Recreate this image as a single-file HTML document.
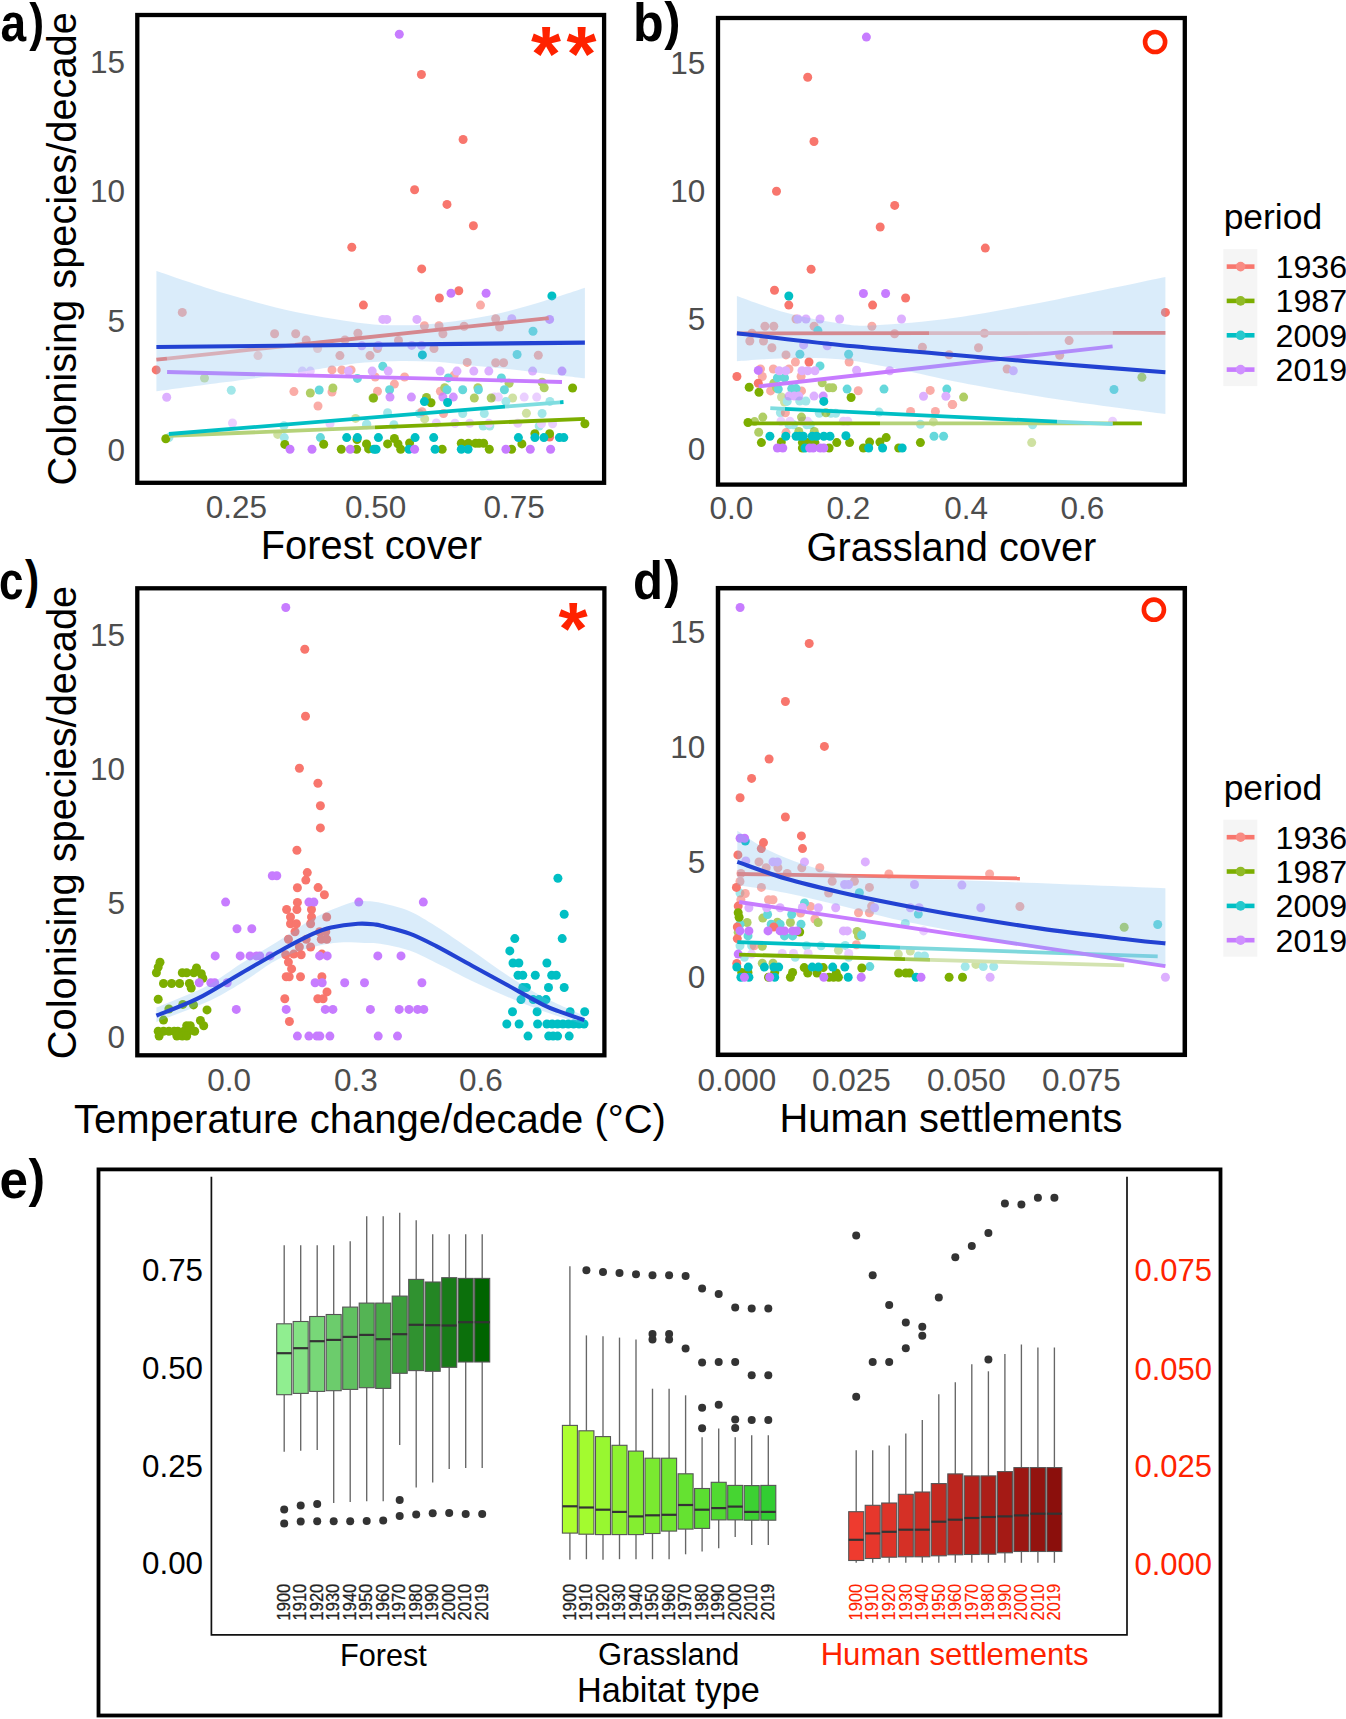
<!DOCTYPE html>
<html lang="en"><head><meta charset="utf-8"><title>Colonising species per decade</title>
<style>
html,body{margin:0;padding:0;background:#fff;}
body{width:1346px;height:1719px;overflow:hidden;}
svg{display:block;font-family:"Liberation Sans",Arial,Helvetica,sans-serif;}
</style></head><body>
<svg width="1346" height="1719" viewBox="0 0 1346 1719">
<rect width="1346" height="1719" fill="#fff"/>
<g id="panel-a">
<g opacity="0.36">
<g fill="#F8766D"><circle cx="258" cy="355.6" r="4.5"/><circle cx="317.6" cy="348.5" r="4.5"/></g>
<g fill="#7CAE00"><circle cx="204.5" cy="378.1" r="4.5"/><circle cx="355.6" cy="418.4" r="4.5"/><circle cx="277.7" cy="434.4" r="4.5"/><circle cx="512.6" cy="398" r="4.5"/><circle cx="526.4" cy="413.2" r="4.5"/><circle cx="424.7" cy="418.9" r="4.5"/></g>
<g fill="#00BFC4"><circle cx="231.3" cy="390.2" r="4.5"/><circle cx="283.9" cy="425.7" r="4.5"/><circle cx="366.5" cy="424.8" r="4.5"/><circle cx="168.9" cy="437.6" r="4.5"/><circle cx="284.3" cy="437.6" r="4.5"/><circle cx="505.9" cy="401.4" r="4.5"/><circle cx="549.9" cy="401.4" r="4.5"/><circle cx="387.6" cy="412.7" r="4.5"/><circle cx="419.4" cy="413.5" r="4.5"/><circle cx="462.7" cy="413.5" r="4.5"/><circle cx="484.3" cy="413.5" r="4.5"/><circle cx="542.1" cy="413.5" r="4.5"/><circle cx="366.8" cy="424.2" r="4.5"/><circle cx="393.9" cy="424.8" r="4.5"/><circle cx="483.2" cy="426" r="4.5"/><circle cx="489.8" cy="426" r="4.5"/><circle cx="539.2" cy="426" r="4.5"/></g>
<g fill="#C77CFF"><circle cx="302.3" cy="371.1" r="4.5"/><circle cx="310.3" cy="371.1" r="4.5"/><circle cx="232.5" cy="423" r="4.5"/><circle cx="330" cy="423.7" r="4.5"/><circle cx="494.4" cy="397.1" r="4.5"/><circle cx="498.4" cy="397.1" r="4.5"/><circle cx="524.2" cy="397.1" r="4.5"/><circle cx="536.7" cy="397.1" r="4.5"/><circle cx="436.3" cy="423" r="4.5"/><circle cx="455" cy="423.3" r="4.5"/><circle cx="469.7" cy="423.3" r="4.5"/><circle cx="488.9" cy="423.3" r="4.5"/><circle cx="517.8" cy="423.3" r="4.5"/><circle cx="541.5" cy="423.7" r="4.5"/><circle cx="552.6" cy="423.7" r="4.5"/></g>
</g>
<g opacity="0.6">
<g fill="#F8766D"><circle cx="182.3" cy="312.4" r="4.5"/><circle cx="274.6" cy="333.7" r="4.5"/><circle cx="295.7" cy="333.7" r="4.5"/><circle cx="306.2" cy="339.9" r="4.5"/><circle cx="357.9" cy="333.3" r="4.5"/><circle cx="345" cy="339.9" r="4.5"/><circle cx="339.9" cy="355.6" r="4.5"/><circle cx="370" cy="355.6" r="4.5"/><circle cx="332" cy="369.9" r="4.5"/><circle cx="341.8" cy="369.9" r="4.5"/><circle cx="351.1" cy="369.9" r="4.5"/><circle cx="293.9" cy="391.6" r="4.5"/><circle cx="332" cy="392" r="4.5"/><circle cx="318" cy="406" r="4.5"/><circle cx="480.5" cy="305.1" r="4.5"/><circle cx="424.4" cy="325.8" r="4.5"/><circle cx="439" cy="325.8" r="4.5"/><circle cx="442.9" cy="333.8" r="4.5"/><circle cx="464.1" cy="326.3" r="4.5"/><circle cx="495.7" cy="318.7" r="4.5"/><circle cx="499.6" cy="327" r="4.5"/><circle cx="398.5" cy="340.4" r="4.5"/><circle cx="377.5" cy="348.5" r="4.5"/><circle cx="434" cy="348.5" r="4.5"/><circle cx="538.3" cy="355.2" r="4.5"/><circle cx="467.2" cy="362.4" r="4.5"/><circle cx="495.7" cy="362.7" r="4.5"/><circle cx="503.6" cy="362.7" r="4.5"/><circle cx="375.2" cy="377" r="4.5"/><circle cx="404.6" cy="377" r="4.5"/><circle cx="454.2" cy="375.2" r="4.5"/><circle cx="394.4" cy="384.1" r="4.5"/><circle cx="377.5" cy="391.3" r="4.5"/><circle cx="440.4" cy="391.3" r="4.5"/><circle cx="422" cy="411.8" r="4.5"/><circle cx="443.5" cy="413.5" r="4.5"/></g>
<g fill="#7CAE00"><circle cx="310.3" cy="393" r="4.5"/><circle cx="332.9" cy="388" r="4.5"/><circle cx="373" cy="398" r="4.5"/><circle cx="509.1" cy="383.2" r="4.5"/><circle cx="542.1" cy="382.3" r="4.5"/><circle cx="544.2" cy="387.7" r="4.5"/><circle cx="444.7" cy="387.7" r="4.5"/><circle cx="477.9" cy="387.7" r="4.5"/><circle cx="474.3" cy="398" r="4.5"/><circle cx="491.2" cy="398" r="4.5"/></g>
<g fill="#00BFC4"><circle cx="357.4" cy="378.4" r="4.5"/><circle cx="319.2" cy="390" r="4.5"/><circle cx="320.4" cy="437.6" r="4.5"/><circle cx="533" cy="331.2" r="4.5"/><circle cx="517.1" cy="354.5" r="4.5"/><circle cx="382.8" cy="366.3" r="4.5"/><circle cx="448.3" cy="377.9" r="4.5"/><circle cx="501.4" cy="377.9" r="4.5"/><circle cx="389.6" cy="389.8" r="4.5"/><circle cx="447" cy="389.8" r="4.5"/><circle cx="462.7" cy="389.8" r="4.5"/><circle cx="478.4" cy="389.8" r="4.5"/><circle cx="504.4" cy="389.8" r="4.5"/></g>
<g fill="#C77CFF"><circle cx="361.8" cy="345.8" r="4.5"/><circle cx="348.4" cy="371.1" r="4.5"/><circle cx="372.2" cy="371.1" r="4.5"/><circle cx="166.7" cy="397.3" r="4.5"/><circle cx="382.8" cy="319.4" r="4.5"/><circle cx="386.8" cy="319.4" r="4.5"/><circle cx="416.9" cy="319.4" r="4.5"/><circle cx="511.8" cy="318.7" r="4.5"/><circle cx="378.4" cy="345.4" r="4.5"/><circle cx="411.7" cy="345.4" r="4.5"/><circle cx="421.5" cy="345.4" r="4.5"/><circle cx="388.2" cy="371.1" r="4.5"/><circle cx="440.1" cy="371.1" r="4.5"/><circle cx="457" cy="371.1" r="4.5"/><circle cx="473.8" cy="371.1" r="4.5"/><circle cx="488.8" cy="371.1" r="4.5"/><circle cx="532.6" cy="371.1" r="4.5"/></g>
</g>
<g opacity="0.8">
<g fill="#7CAE00"><circle cx="373.6" cy="398" r="4.5"/><circle cx="426.5" cy="397.5" r="4.5"/></g>
<g fill="#C77CFF"><circle cx="549.6" cy="319.4" r="4.5"/><circle cx="562" cy="371.1" r="4.5"/><circle cx="390" cy="397.1" r="4.5"/><circle cx="411.4" cy="397.1" r="4.5"/><circle cx="442.9" cy="397.1" r="4.5"/><circle cx="453.3" cy="397.1" r="4.5"/></g>
</g>
<g opacity="1.0">
<g fill="#F8766D"><circle cx="421.4" cy="74.5" r="4.5"/><circle cx="463.1" cy="139.5" r="4.5"/><circle cx="414.6" cy="189.7" r="4.5"/><circle cx="447" cy="204.4" r="4.5"/><circle cx="473.4" cy="225.8" r="4.5"/><circle cx="351.8" cy="247.2" r="4.5"/><circle cx="421.7" cy="268.9" r="4.5"/><circle cx="363.4" cy="305.1" r="4.5"/><circle cx="156.2" cy="369.9" r="4.5"/><circle cx="439.4" cy="298" r="4.5"/><circle cx="458.8" cy="290.7" r="4.5"/><circle cx="549.6" cy="437" r="4.5"/></g>
<g fill="#7CAE00"><circle cx="165.8" cy="438.7" r="4.5"/><circle cx="284.8" cy="444.4" r="4.5"/><circle cx="323.7" cy="444.2" r="4.5"/><circle cx="341.3" cy="449.2" r="4.5"/><circle cx="356.6" cy="449.2" r="4.5"/><circle cx="357" cy="439.5" r="4.5"/><circle cx="366.5" cy="443.9" r="4.5"/><circle cx="368.6" cy="448.9" r="4.5"/><circle cx="572.6" cy="388" r="4.5"/><circle cx="431" cy="402.8" r="4.5"/><circle cx="584.9" cy="423.7" r="4.5"/><circle cx="394.4" cy="438.5" r="4.5"/><circle cx="387.6" cy="443.9" r="4.5"/><circle cx="398" cy="443.9" r="4.5"/><circle cx="409.6" cy="443" r="4.5"/><circle cx="400.7" cy="449.2" r="4.5"/><circle cx="442.2" cy="449.2" r="4.5"/><circle cx="461.3" cy="443.3" r="4.5"/><circle cx="468.4" cy="443.3" r="4.5"/><circle cx="475.6" cy="443.3" r="4.5"/><circle cx="479.1" cy="443.3" r="4.5"/><circle cx="483.6" cy="443.3" r="4.5"/><circle cx="489.3" cy="449.2" r="4.5"/><circle cx="511.6" cy="449.2" r="4.5"/><circle cx="521.9" cy="443.9" r="4.5"/><circle cx="534.9" cy="433.7" r="4.5"/><circle cx="549.6" cy="433.7" r="4.5"/></g>
<g fill="#00BFC4"><circle cx="346.7" cy="437.6" r="4.5"/><circle cx="357.4" cy="437.6" r="4.5"/><circle cx="374" cy="449.2" r="4.5"/><circle cx="551.9" cy="295.9" r="4.5"/><circle cx="422.4" cy="354.9" r="4.5"/><circle cx="424.4" cy="401.6" r="4.5"/><circle cx="447.6" cy="402.5" r="4.5"/><circle cx="378.4" cy="437.6" r="4.5"/><circle cx="415.1" cy="437.6" r="4.5"/><circle cx="433.7" cy="437.6" r="4.5"/><circle cx="376.1" cy="449.2" r="4.5"/><circle cx="409" cy="449.2" r="4.5"/><circle cx="435.1" cy="449.2" r="4.5"/><circle cx="461.3" cy="449.2" r="4.5"/><circle cx="468.1" cy="449.2" r="4.5"/><circle cx="518.4" cy="437.6" r="4.5"/><circle cx="534.9" cy="437.6" r="4.5"/><circle cx="543.9" cy="437.6" r="4.5"/><circle cx="559.4" cy="437.6" r="4.5"/><circle cx="563.8" cy="437.6" r="4.5"/></g>
<g fill="#C77CFF"><circle cx="399.3" cy="34.3" r="4.5"/><circle cx="290" cy="449.2" r="4.5"/><circle cx="312" cy="449.2" r="4.5"/><circle cx="350.2" cy="449.2" r="4.5"/><circle cx="451" cy="293.2" r="4.5"/><circle cx="486.1" cy="293.2" r="4.5"/><circle cx="414.6" cy="449.2" r="4.5"/><circle cx="505.9" cy="449.2" r="4.5"/><circle cx="530.3" cy="449.2" r="4.5"/><circle cx="550.6" cy="449.2" r="4.5"/></g>
</g>
<line x1="168.9" y1="435.8" x2="375" y2="427.4" stroke="#B5D279" stroke-width="3.8" stroke-opacity="1" stroke-linecap="butt"/>
<line x1="375" y1="427.4" x2="584.9" y2="418.9" stroke="#7CAE00" stroke-width="3.8" stroke-opacity="1" stroke-linecap="butt"/>
<line x1="168.9" y1="434" x2="505" y2="406.7" stroke="#00BFC4" stroke-width="3.8" stroke-opacity="1" stroke-linecap="butt"/>
<line x1="505" y1="406.7" x2="560" y2="402.3" stroke="#7FDDE0" stroke-width="3.8" stroke-opacity="1" stroke-linecap="butt"/>
<line x1="560" y1="402.3" x2="563.5" y2="402" stroke="#00BFC4" stroke-width="3.8" stroke-opacity="1" stroke-linecap="butt"/>
<line x1="167.1" y1="372" x2="562" y2="382" stroke="#C77CFF" stroke-width="3.8" stroke-opacity="1" stroke-linecap="butt"/>
<line x1="156.4" y1="359.7" x2="167" y2="358.6" stroke="#F8766D" stroke-width="3.8" stroke-opacity="1" stroke-linecap="butt"/>
<line x1="167" y1="358.6" x2="295" y2="345" stroke="#F8766D" stroke-width="3.8" stroke-opacity="0.6" stroke-linecap="butt"/>
<line x1="295" y1="345" x2="548.7" y2="318.1" stroke="#F8766D" stroke-width="3.8" stroke-opacity="1" stroke-linecap="butt"/>
<path d="M156.4,270.9C167.7,274.6 201,286.4 224.2,293.2C247.4,300 272,306.8 295.5,311.9C319,316.9 347.5,321.3 365,323.5C382.5,325.7 388.8,325.3 400.7,325.3C412.6,325.3 421.4,325.1 436.3,323.5C451.2,321.9 472,319.2 489.8,315.5C507.6,311.8 527.4,305.8 543.3,301.2C559.1,296.6 578,290 584.9,287.8L584.9,378.2C578,377.4 556.2,374.9 543.3,373.4C530.4,371.9 519.6,370.3 507.7,369C495.8,367.7 483.9,366.6 472,365.4C460.1,364.2 448.2,362.6 436.3,361.8C424.4,361.1 412.6,360.8 400.7,360.9C388.8,361 376.6,361.6 365,362.6C353.4,363.6 342.6,365.3 331,367C319.4,368.7 313.3,370.2 295.5,372.8C277.7,375.4 247.4,379.2 224.2,382.3C201,385.4 167.7,389.8 156.4,391.3Z" fill="#76B9EC" fill-opacity="0.27"/>
<line x1="156.4" y1="347" x2="584.9" y2="342.6" stroke="#2242D2" stroke-width="4.1" stroke-opacity="1" stroke-linecap="butt"/>
<rect x="137.3" y="15" width="466.8" height="467.8" fill="none" stroke="#000" stroke-width="4.3"/>
<text x="125" y="72.8" font-size="31.5" fill="#4D4D4D" text-anchor="end" font-weight="normal">15</text>
<text x="125" y="202.3" font-size="31.5" fill="#4D4D4D" text-anchor="end" font-weight="normal">10</text>
<text x="125" y="331.8" font-size="31.5" fill="#4D4D4D" text-anchor="end" font-weight="normal">5</text>
<text x="125" y="461.3" font-size="31.5" fill="#4D4D4D" text-anchor="end" font-weight="normal">0</text>
<text x="236.4" y="517.5" font-size="31.5" fill="#4D4D4D" text-anchor="middle" font-weight="normal">0.25</text>
<text x="375.7" y="517.5" font-size="31.5" fill="#4D4D4D" text-anchor="middle" font-weight="normal">0.50</text>
<text x="514.1" y="517.5" font-size="31.5" fill="#4D4D4D" text-anchor="middle" font-weight="normal">0.75</text>
<text x="371.4" y="559.2" font-size="39.8" fill="#000" text-anchor="middle" font-weight="normal">Forest cover</text>
<text x="76.3" y="248.9" font-size="39.8" fill="#000" text-anchor="middle" font-weight="normal" transform="rotate(-90 76.3 248.9)">Colonising species/decade</text>
<text y="80.5" font-size="77" font-weight="bold" fill="#FF2200" text-anchor="middle"><tspan x="546.1">*</tspan><tspan x="581.6">*</tspan></text>
</g>
<g id="panel-b">
<g opacity="0.36">
<g fill="#7CAE00"><circle cx="781.5" cy="397" r="4.5"/><circle cx="784.5" cy="402" r="4.5"/><circle cx="933.4" cy="421.9" r="4.5"/><circle cx="1031.7" cy="442.6" r="4.5"/></g>
<g fill="#00BFC4"><circle cx="787.2" cy="401.4" r="4.5"/><circle cx="799.7" cy="401.1" r="4.5"/><circle cx="805.9" cy="401.1" r="4.5"/><circle cx="780.4" cy="412.7" r="4.5"/><circle cx="819.3" cy="413.2" r="4.5"/><circle cx="830.9" cy="413.2" r="4.5"/><circle cx="835.7" cy="413.2" r="4.5"/><circle cx="879.1" cy="412.1" r="4.5"/><circle cx="789" cy="424.8" r="4.5"/><circle cx="793.5" cy="424.8" r="4.5"/><circle cx="806.8" cy="424.8" r="4.5"/><circle cx="810.4" cy="424.8" r="4.5"/><circle cx="920.4" cy="424.2" r="4.5"/><circle cx="1032.6" cy="424.8" r="4.5"/></g>
<g fill="#C77CFF"><circle cx="781" cy="421.2" r="4.5"/><circle cx="789.9" cy="421.2" r="4.5"/><circle cx="802.4" cy="421.2" r="4.5"/><circle cx="807.4" cy="421.2" r="4.5"/><circle cx="843.4" cy="421.2" r="4.5"/><circle cx="847.8" cy="421.2" r="4.5"/><circle cx="1112.6" cy="421.2" r="4.5"/></g>
</g>
<g opacity="0.6">
<g fill="#F8766D"><circle cx="796" cy="319" r="4.5"/><circle cx="764.9" cy="326.2" r="4.5"/><circle cx="773.8" cy="326.2" r="4.5"/><circle cx="814.1" cy="326.2" r="4.5"/><circle cx="871.9" cy="326.2" r="4.5"/><circle cx="751.9" cy="333.3" r="4.5"/><circle cx="894.6" cy="333.7" r="4.5"/><circle cx="749.8" cy="341" r="4.5"/><circle cx="763.5" cy="341" r="4.5"/><circle cx="771.9" cy="347.7" r="4.5"/><circle cx="922.4" cy="347.2" r="4.5"/><circle cx="786" cy="354.9" r="4.5"/><circle cx="949.1" cy="354.7" r="4.5"/><circle cx="795.4" cy="362" r="4.5"/><circle cx="849.1" cy="362" r="4.5"/><circle cx="760.5" cy="369" r="4.5"/><circle cx="773.3" cy="369" r="4.5"/><circle cx="789" cy="369" r="4.5"/><circle cx="762.3" cy="376.5" r="4.5"/><circle cx="801.1" cy="376.5" r="4.5"/><circle cx="801.5" cy="390.9" r="4.5"/><circle cx="770.6" cy="390.9" r="4.5"/><circle cx="858.2" cy="390.7" r="4.5"/><circle cx="930.2" cy="390.4" r="4.5"/><circle cx="952.2" cy="404.6" r="4.5"/><circle cx="785.4" cy="412.7" r="4.5"/><circle cx="910.6" cy="411.4" r="4.5"/><circle cx="935.4" cy="411.4" r="4.5"/><circle cx="786" cy="432.6" r="4.5"/><circle cx="984.4" cy="333.3" r="4.5"/><circle cx="978.5" cy="347.7" r="4.5"/><circle cx="1069.1" cy="340.6" r="4.5"/><circle cx="1059.7" cy="355.2" r="4.5"/><circle cx="1007.1" cy="369" r="4.5"/><circle cx="952.7" cy="404.6" r="4.5"/></g>
<g fill="#7CAE00"><circle cx="773.8" cy="383.2" r="4.5"/><circle cx="822.2" cy="382.7" r="4.5"/><circle cx="776.5" cy="387.7" r="4.5"/><circle cx="829.1" cy="387.7" r="4.5"/><circle cx="832.7" cy="387.7" r="4.5"/><circle cx="825.9" cy="412.7" r="4.5"/><circle cx="762.8" cy="417.1" r="4.5"/><circle cx="801.5" cy="417.1" r="4.5"/><circle cx="754.6" cy="421.6" r="4.5"/><circle cx="758.7" cy="432.3" r="4.5"/><circle cx="798.8" cy="431.4" r="4.5"/><circle cx="814.3" cy="431.4" r="4.5"/><circle cx="1141.9" cy="377.3" r="4.5"/><circle cx="963.6" cy="397.1" r="4.5"/></g>
<g fill="#00BFC4"><circle cx="817.9" cy="330.6" r="4.5"/><circle cx="799.9" cy="354.3" r="4.5"/><circle cx="848.6" cy="354.2" r="4.5"/><circle cx="820" cy="365.9" r="4.5"/><circle cx="777.4" cy="377.9" r="4.5"/><circle cx="784.5" cy="377.9" r="4.5"/><circle cx="778.3" cy="389.1" r="4.5"/><circle cx="791.7" cy="388.6" r="4.5"/><circle cx="796.1" cy="388.6" r="4.5"/><circle cx="847.1" cy="389.1" r="4.5"/><circle cx="884" cy="389.1" r="4.5"/><circle cx="946.8" cy="389.1" r="4.5"/><circle cx="934" cy="436.2" r="4.5"/><circle cx="943.6" cy="436.2" r="4.5"/><circle cx="1114" cy="389.5" r="4.5"/></g>
<g fill="#C77CFF"><circle cx="797.9" cy="319" r="4.5"/><circle cx="806" cy="319" r="4.5"/><circle cx="820" cy="319" r="4.5"/><circle cx="839.6" cy="319" r="4.5"/><circle cx="901.5" cy="319" r="4.5"/><circle cx="803.6" cy="344.9" r="4.5"/><circle cx="827.2" cy="345.8" r="4.5"/><circle cx="779.2" cy="370.7" r="4.5"/><circle cx="785.8" cy="370.7" r="4.5"/><circle cx="802" cy="370.7" r="4.5"/><circle cx="807.7" cy="370.7" r="4.5"/><circle cx="814.9" cy="370.7" r="4.5"/><circle cx="856.6" cy="370.2" r="4.5"/><circle cx="889.7" cy="370.7" r="4.5"/><circle cx="789" cy="396.1" r="4.5"/><circle cx="794.3" cy="396.1" r="4.5"/><circle cx="798.8" cy="396.1" r="4.5"/><circle cx="814" cy="396.1" r="4.5"/><circle cx="923.5" cy="396.2" r="4.5"/><circle cx="945.9" cy="396.2" r="4.5"/><circle cx="1013.3" cy="370.7" r="4.5"/></g>
</g>
<g opacity="0.8">
<g fill="#C77CFF"><circle cx="823.2" cy="396.1" r="4.5"/></g>
</g>
<g opacity="1.0">
<g fill="#F8766D"><circle cx="807.7" cy="77.2" r="4.5"/><circle cx="814" cy="141.5" r="4.5"/><circle cx="776.5" cy="191.3" r="4.5"/><circle cx="894.7" cy="205.4" r="4.5"/><circle cx="880.2" cy="227" r="4.5"/><circle cx="985.3" cy="248.1" r="4.5"/><circle cx="811.1" cy="269.3" r="4.5"/><circle cx="774.5" cy="290.3" r="4.5"/><circle cx="788.8" cy="305.1" r="4.5"/><circle cx="872.6" cy="305.1" r="4.5"/><circle cx="905.6" cy="298" r="4.5"/><circle cx="809" cy="362" r="4.5"/><circle cx="736.9" cy="376.5" r="4.5"/><circle cx="758.3" cy="383.2" r="4.5"/><circle cx="1165.4" cy="312.4" r="4.5"/></g>
<g fill="#7CAE00"><circle cx="749.2" cy="387.2" r="4.5"/><circle cx="759" cy="392.3" r="4.5"/><circle cx="851.1" cy="397.5" r="4.5"/><circle cx="748" cy="422.5" r="4.5"/><circle cx="761.4" cy="442.6" r="4.5"/><circle cx="781.3" cy="442.1" r="4.5"/><circle cx="802.4" cy="442.6" r="4.5"/><circle cx="807.7" cy="442.6" r="4.5"/><circle cx="814.9" cy="442.6" r="4.5"/><circle cx="836.8" cy="442.6" r="4.5"/><circle cx="849.6" cy="442.6" r="4.5"/><circle cx="869.6" cy="442.1" r="4.5"/><circle cx="879.9" cy="442.1" r="4.5"/><circle cx="886.2" cy="437.6" r="4.5"/><circle cx="920.4" cy="442.6" r="4.5"/><circle cx="802.4" cy="448" r="4.5"/><circle cx="829.1" cy="448" r="4.5"/><circle cx="863.4" cy="448" r="4.5"/><circle cx="898.7" cy="448" r="4.5"/></g>
<g fill="#00BFC4"><circle cx="788.8" cy="296" r="4.5"/><circle cx="823.8" cy="401.4" r="4.5"/><circle cx="769.9" cy="436.2" r="4.5"/><circle cx="785.8" cy="436.2" r="4.5"/><circle cx="796.1" cy="436.2" r="4.5"/><circle cx="799.7" cy="436.2" r="4.5"/><circle cx="803.3" cy="436.2" r="4.5"/><circle cx="812.2" cy="436.2" r="4.5"/><circle cx="816.6" cy="436.2" r="4.5"/><circle cx="823.8" cy="436.2" r="4.5"/><circle cx="830" cy="436.2" r="4.5"/><circle cx="845.9" cy="435.8" r="4.5"/><circle cx="805" cy="448" r="4.5"/><circle cx="868.7" cy="448" r="4.5"/><circle cx="882.6" cy="448" r="4.5"/><circle cx="902.2" cy="448" r="4.5"/></g>
<g fill="#C77CFF"><circle cx="866.4" cy="37.1" r="4.5"/><circle cx="863.4" cy="293.5" r="4.5"/><circle cx="885.6" cy="293.5" r="4.5"/><circle cx="758.3" cy="370.4" r="4.5"/><circle cx="777.4" cy="448" r="4.5"/><circle cx="782.8" cy="448" r="4.5"/><circle cx="809.7" cy="448" r="4.5"/><circle cx="813.2" cy="448" r="4.5"/><circle cx="820.2" cy="448" r="4.5"/><circle cx="823.8" cy="448" r="4.5"/></g>
</g>
<line x1="748" y1="423.3" x2="880" y2="423.3" stroke="#7CAE00" stroke-width="3.8" stroke-opacity="1" stroke-linecap="butt"/>
<line x1="880" y1="423.3" x2="1112.6" y2="423.4" stroke="#B5D279" stroke-width="3.8" stroke-opacity="1" stroke-linecap="butt"/>
<line x1="1112.6" y1="423.4" x2="1141.9" y2="423.4" stroke="#7CAE00" stroke-width="3.8" stroke-opacity="1" stroke-linecap="butt"/>
<line x1="770.3" y1="408.2" x2="785" y2="408.9" stroke="#7FDDE0" stroke-width="3.8" stroke-opacity="1" stroke-linecap="butt"/>
<line x1="785" y1="408.9" x2="1057" y2="421.6" stroke="#00BFC4" stroke-width="3.8" stroke-opacity="1" stroke-linecap="butt"/>
<line x1="1057" y1="421.6" x2="1112.6" y2="424.2" stroke="#7FDDE0" stroke-width="3.8" stroke-opacity="1" stroke-linecap="butt"/>
<line x1="758.7" y1="386.4" x2="1112.6" y2="346.3" stroke="#C77CFF" stroke-width="3.8" stroke-opacity="1" stroke-linecap="butt"/>
<line x1="736.9" y1="333.5" x2="929" y2="333.2" stroke="#F8766D" stroke-width="3.8" stroke-opacity="1" stroke-linecap="butt"/>
<line x1="929" y1="333.2" x2="1112.6" y2="332.9" stroke="#FBBAB6" stroke-width="3.8" stroke-opacity="1" stroke-linecap="butt"/>
<line x1="1112.6" y1="332.9" x2="1165.4" y2="332.8" stroke="#F8766D" stroke-width="3.8" stroke-opacity="1" stroke-linecap="butt"/>
<path d="M736.9,295.9C745.1,298.7 769.1,308.2 786.3,312.8C803.4,317.4 824.9,321.4 839.8,323.5C854.7,325.6 856.3,326.2 875.5,325.3C894.7,324.4 924.8,322.1 955,317.8C985.2,313.5 1021.9,306.2 1057,299.4C1092.1,292.6 1147.3,280.8 1165.4,277.1L1165.4,414.1C1147.3,411.6 1092.1,404.8 1057,399.3C1021.9,393.9 982.3,386.6 955,381.4C927.7,376.2 912.5,371.8 893.3,368.1C874.1,364.4 857.6,360.8 839.8,359.2C822,357.6 803.4,357.9 786.3,358.3C769.1,358.7 745.1,360.8 736.9,361.3Z" fill="#76B9EC" fill-opacity="0.27"/>
<path d="M736.9,333.3C754.1,335.2 803.6,341.4 840,345C876.4,348.6 918.3,351.8 955,355C991.7,358.2 1024.9,361.1 1060,364C1095.1,366.9 1147.8,370.8 1165.4,372.2" fill="none" stroke="#2242D2" stroke-width="4.1"/>
<rect x="718" y="18" width="466.8" height="466.6" fill="none" stroke="#000" stroke-width="4.3"/>
<text x="705.2" y="73.9" font-size="31.5" fill="#4D4D4D" text-anchor="end" font-weight="normal">15</text>
<text x="705.2" y="202.2" font-size="31.5" fill="#4D4D4D" text-anchor="end" font-weight="normal">10</text>
<text x="705.2" y="330" font-size="31.5" fill="#4D4D4D" text-anchor="end" font-weight="normal">5</text>
<text x="705.2" y="459.5" font-size="31.5" fill="#4D4D4D" text-anchor="end" font-weight="normal">0</text>
<text x="731.4" y="519" font-size="31.5" fill="#4D4D4D" text-anchor="middle" font-weight="normal">0.0</text>
<text x="848.5" y="519" font-size="31.5" fill="#4D4D4D" text-anchor="middle" font-weight="normal">0.2</text>
<text x="966.1" y="519" font-size="31.5" fill="#4D4D4D" text-anchor="middle" font-weight="normal">0.4</text>
<text x="1082.5" y="519" font-size="31.5" fill="#4D4D4D" text-anchor="middle" font-weight="normal">0.6</text>
<text x="951.4" y="560.5" font-size="39.8" fill="#000" text-anchor="middle" font-weight="normal">Grassland cover</text>
<circle cx="1155.1" cy="42" r="10.05" fill="none" stroke="#FF2200" stroke-width="4.6"/>
</g>
<g id="panel-c">
<g fill="#F8766D">
<circle cx="296.9" cy="850.2" r="4.5"/>
<circle cx="307.3" cy="872.6" r="4.5"/>
<circle cx="305.8" cy="880.1" r="4.5"/>
<circle cx="297.4" cy="887.8" r="4.5"/>
<circle cx="318.1" cy="887.6" r="4.5"/>
<circle cx="324.4" cy="894.7" r="4.5"/>
<circle cx="297.4" cy="902.4" r="4.5"/>
<circle cx="311.5" cy="909.5" r="4.5"/>
<circle cx="286.6" cy="909.5" r="4.5"/>
<circle cx="296.9" cy="909.5" r="4.5"/>
<circle cx="290.5" cy="917" r="4.5"/>
<circle cx="311.5" cy="917" r="4.5"/>
<circle cx="326.7" cy="917" r="4.5"/>
<circle cx="290.5" cy="923.8" r="4.5"/>
<circle cx="296.4" cy="923.8" r="4.5"/>
<circle cx="310.6" cy="923.8" r="4.5"/>
<circle cx="295" cy="931.8" r="4.5"/>
<circle cx="319.6" cy="931.8" r="4.5"/>
<circle cx="325.8" cy="931.8" r="4.5"/>
<circle cx="288.4" cy="939.3" r="4.5"/>
<circle cx="306.2" cy="939.3" r="4.5"/>
<circle cx="321.3" cy="939.3" r="4.5"/>
<circle cx="326.7" cy="939.3" r="4.5"/>
<circle cx="299.4" cy="947" r="4.5"/>
<circle cx="310.6" cy="947" r="4.5"/>
<circle cx="285.7" cy="954.7" r="4.5"/>
<circle cx="293.7" cy="954.1" r="4.5"/>
<circle cx="301.2" cy="954.7" r="4.5"/>
<circle cx="321.9" cy="954.1" r="4.5"/>
<circle cx="288.4" cy="962.1" r="4.5"/>
<circle cx="291.6" cy="968.9" r="4.5"/>
<circle cx="286.2" cy="976.8" r="4.5"/>
<circle cx="289.2" cy="976.8" r="4.5"/>
<circle cx="300.5" cy="976.8" r="4.5"/>
<circle cx="321.9" cy="976.8" r="4.5"/>
<circle cx="327" cy="991.9" r="4.5"/>
<circle cx="284.8" cy="998.7" r="4.5"/>
<circle cx="317.8" cy="998.7" r="4.5"/>
<circle cx="323.1" cy="998.7" r="4.5"/>
<circle cx="289.4" cy="1021.5" r="4.5"/>
<circle cx="304.8" cy="649.2" r="4.5"/>
<circle cx="305.5" cy="716.2" r="4.5"/>
<circle cx="299.4" cy="768.3" r="4.5"/>
<circle cx="317.9" cy="783.3" r="4.5"/>
<circle cx="320.4" cy="805.7" r="4.5"/>
<circle cx="320.4" cy="827.9" r="4.5"/>
</g>
<g fill="#7CAE00">
<circle cx="160" cy="962.3" r="4.5"/>
<circle cx="158.2" cy="967.1" r="4.5"/>
<circle cx="156.4" cy="972.8" r="4.5"/>
<circle cx="196.5" cy="968" r="4.5"/>
<circle cx="182.3" cy="972.8" r="4.5"/>
<circle cx="186.7" cy="972.8" r="4.5"/>
<circle cx="193.8" cy="972.8" r="4.5"/>
<circle cx="201.3" cy="973.7" r="4.5"/>
<circle cx="202.8" cy="978.2" r="4.5"/>
<circle cx="163.5" cy="983.5" r="4.5"/>
<circle cx="171.6" cy="983.5" r="4.5"/>
<circle cx="179.6" cy="983.5" r="4.5"/>
<circle cx="189.4" cy="983.5" r="4.5"/>
<circle cx="191.2" cy="988" r="4.5"/>
<circle cx="158.2" cy="999.2" r="4.5"/>
<circle cx="168.9" cy="1009" r="4.5"/>
<circle cx="182.8" cy="1004.4" r="4.5"/>
<circle cx="193.5" cy="1004.9" r="4.5"/>
<circle cx="207" cy="1009.9" r="4.5"/>
<circle cx="163.5" cy="1020.1" r="4.5"/>
<circle cx="200.4" cy="1020.5" r="4.5"/>
<circle cx="203.7" cy="1025.8" r="4.5"/>
<circle cx="186.7" cy="1025.8" r="4.5"/>
<circle cx="190.3" cy="1025.8" r="4.5"/>
<circle cx="158.2" cy="1031.2" r="4.5"/>
<circle cx="163.5" cy="1031.2" r="4.5"/>
<circle cx="168.9" cy="1031.2" r="4.5"/>
<circle cx="174.2" cy="1031.2" r="4.5"/>
<circle cx="177.8" cy="1031.2" r="4.5"/>
<circle cx="184" cy="1031.2" r="4.5"/>
<circle cx="188.5" cy="1031.2" r="4.5"/>
<circle cx="194.7" cy="1031.2" r="4.5"/>
<circle cx="159.1" cy="1036.1" r="4.5"/>
<circle cx="176.9" cy="1036.1" r="4.5"/>
<circle cx="182.3" cy="1036.1" r="4.5"/>
<circle cx="186.7" cy="1036.1" r="4.5"/>
</g>
<g fill="#00BFC4">
<circle cx="557.9" cy="878.2" r="4.5"/>
<circle cx="564.2" cy="914.2" r="4.5"/>
<circle cx="562.2" cy="938.6" r="4.5"/>
<circle cx="514.8" cy="938.6" r="4.5"/>
<circle cx="509.8" cy="950.9" r="4.5"/>
<circle cx="513" cy="963" r="4.5"/>
<circle cx="518.9" cy="963" r="4.5"/>
<circle cx="546.9" cy="963" r="4.5"/>
<circle cx="518" cy="975.2" r="4.5"/>
<circle cx="522.8" cy="975.2" r="4.5"/>
<circle cx="535.3" cy="975.2" r="4.5"/>
<circle cx="551.7" cy="975.2" r="4.5"/>
<circle cx="556.3" cy="975.2" r="4.5"/>
<circle cx="522.8" cy="987.5" r="4.5"/>
<circle cx="526.4" cy="987.5" r="4.5"/>
<circle cx="548.5" cy="987.5" r="4.5"/>
<circle cx="564.2" cy="987.5" r="4.5"/>
<circle cx="521" cy="999.6" r="4.5"/>
<circle cx="533.2" cy="999.6" r="4.5"/>
<circle cx="538.9" cy="999.6" r="4.5"/>
<circle cx="546" cy="999.6" r="4.5"/>
<circle cx="512.5" cy="1011.7" r="4.5"/>
<circle cx="537.1" cy="1011.7" r="4.5"/>
<circle cx="570.1" cy="1011.7" r="4.5"/>
<circle cx="584.7" cy="1011.7" r="4.5"/>
<circle cx="506.8" cy="1024" r="4.5"/>
<circle cx="519.1" cy="1024" r="4.5"/>
<circle cx="537.6" cy="1024" r="4.5"/>
<circle cx="546.9" cy="1024" r="4.5"/>
<circle cx="552.2" cy="1024" r="4.5"/>
<circle cx="557.6" cy="1024" r="4.5"/>
<circle cx="562.9" cy="1024" r="4.5"/>
<circle cx="568.3" cy="1024" r="4.5"/>
<circle cx="573.6" cy="1024" r="4.5"/>
<circle cx="579" cy="1024" r="4.5"/>
<circle cx="584" cy="1024" r="4.5"/>
<circle cx="528" cy="1036.1" r="4.5"/>
<circle cx="548.7" cy="1036.1" r="4.5"/>
<circle cx="553.1" cy="1036.1" r="4.5"/>
<circle cx="557.6" cy="1036.1" r="4.5"/>
<circle cx="569.2" cy="1036.1" r="4.5"/>
</g>
<g fill="#C77CFF">
<circle cx="285.8" cy="607.5" r="4.5"/>
<circle cx="272.3" cy="875.7" r="4.5"/>
<circle cx="276.8" cy="875.7" r="4.5"/>
<circle cx="225.6" cy="902.1" r="4.5"/>
<circle cx="308.9" cy="902.1" r="4.5"/>
<circle cx="313.9" cy="902.1" r="4.5"/>
<circle cx="358.8" cy="902.1" r="4.5"/>
<circle cx="237" cy="928.8" r="4.5"/>
<circle cx="251.8" cy="928.8" r="4.5"/>
<circle cx="215.2" cy="955.9" r="4.5"/>
<circle cx="240.2" cy="955.9" r="4.5"/>
<circle cx="250" cy="955.9" r="4.5"/>
<circle cx="256.3" cy="955.9" r="4.5"/>
<circle cx="259.8" cy="955.9" r="4.5"/>
<circle cx="270" cy="955.9" r="4.5"/>
<circle cx="319.6" cy="955.9" r="4.5"/>
<circle cx="327.2" cy="955.9" r="4.5"/>
<circle cx="199.2" cy="982.7" r="4.5"/>
<circle cx="210.8" cy="982.7" r="4.5"/>
<circle cx="214.7" cy="982.7" r="4.5"/>
<circle cx="227.2" cy="982.7" r="4.5"/>
<circle cx="315.1" cy="982.7" r="4.5"/>
<circle cx="322.2" cy="982.7" r="4.5"/>
<circle cx="344.7" cy="982.7" r="4.5"/>
<circle cx="364.5" cy="982.7" r="4.5"/>
<circle cx="236.3" cy="1009.4" r="4.5"/>
<circle cx="286.2" cy="1009.4" r="4.5"/>
<circle cx="325.3" cy="1009.4" r="4.5"/>
<circle cx="332.9" cy="1009.4" r="4.5"/>
<circle cx="370.4" cy="1009.4" r="4.5"/>
<circle cx="297.4" cy="1036.1" r="4.5"/>
<circle cx="308.9" cy="1036.1" r="4.5"/>
<circle cx="316.9" cy="1036.1" r="4.5"/>
<circle cx="319.9" cy="1036.1" r="4.5"/>
<circle cx="329.9" cy="1036.1" r="4.5"/>
<circle cx="423.3" cy="902.1" r="4.5"/>
<circle cx="377.8" cy="955.9" r="4.5"/>
<circle cx="401" cy="955.9" r="4.5"/>
<circle cx="421.9" cy="982.7" r="4.5"/>
<circle cx="399.2" cy="1009.4" r="4.5"/>
<circle cx="409" cy="1009.4" r="4.5"/>
<circle cx="417.6" cy="1009.4" r="4.5"/>
<circle cx="423.8" cy="1009.4" r="4.5"/>
<circle cx="378.2" cy="1036.1" r="4.5"/>
<circle cx="397.5" cy="1036.1" r="4.5"/>
</g>
<path d="M156.4,1007.6C164.7,1004 192,993.6 206.3,986.2C220.6,978.8 230.1,970.4 242,963C253.9,955.6 265.8,949 277.7,941.6C289.6,934.2 301.4,924.9 313.3,918.5C325.2,912.1 340.1,906.2 349,903.3C357.9,900.4 361.2,901.2 366.8,901.2C372.4,901.2 375.7,901.6 382.8,903.3C389.9,905 400.7,907.4 409.6,911.3C418.5,915.2 425.9,920 436.3,926.5C446.7,933 460.1,942.4 472,950.6C483.9,958.8 495.8,967.8 507.7,975.5C519.6,983.2 530.5,990.2 543.3,996.9C556.1,1003.6 577.5,1012.5 584.3,1015.6L584.3,1024.6C577.5,1022.4 556.1,1015.8 543.3,1011.2C530.5,1006.6 519.6,1002 507.7,996.9C495.8,991.8 483.9,986.5 472,980.9C460.1,975.2 446.7,968 436.3,963C425.9,958 418.5,953.7 409.6,950.6C400.7,947.5 390.2,945.5 382.8,944.3C375.4,943 372.1,943.4 365,943.1C357.9,942.8 348.6,941.9 340,942.5C331.4,943.1 323.7,944.2 313.3,947C302.9,949.8 289.6,953.5 277.7,959.5C265.8,965.5 253.9,975.6 242,982.7C230.1,989.8 220.6,995.8 206.3,1002.3C192,1008.8 164.7,1018.6 156.4,1021.9Z" fill="#76B9EC" fill-opacity="0.27"/>
<path d="M156.4,1015.6C163.2,1012.8 183.1,1005.8 197.4,998.7C211.7,991.6 227.4,981.2 242,972.8C256.6,964.4 272.9,954.7 284.8,948.2C296.7,941.7 305.6,937.1 313.3,933.6C321,930.1 323.7,929 331.1,927.4C338.5,925.8 350.6,924.3 357.9,923.8C365.2,923.3 370.9,924.1 375,924.5C379.1,924.9 377,924.6 382.8,926.1C388.6,927.6 400.7,930.3 409.6,933.6C418.5,936.9 425.9,940.8 436.3,946.1C446.7,951.5 460.1,959.2 472,965.7C483.9,972.2 495.8,978.8 507.7,985.3C519.6,991.8 534.4,1000.4 543.3,1004.9C552.2,1009.4 554.3,1009.6 561.1,1012.1C567.9,1014.6 580.4,1018.8 584.3,1020.1" fill="none" stroke="#2242D2" stroke-width="4.1"/>
<rect x="137.3" y="588.3" width="467.1" height="467" fill="none" stroke="#000" stroke-width="4.3"/>
<text x="125" y="646.2" font-size="31.5" fill="#4D4D4D" text-anchor="end" font-weight="normal">15</text>
<text x="125" y="780.2" font-size="31.5" fill="#4D4D4D" text-anchor="end" font-weight="normal">10</text>
<text x="125" y="914.2" font-size="31.5" fill="#4D4D4D" text-anchor="end" font-weight="normal">5</text>
<text x="125" y="1048.2" font-size="31.5" fill="#4D4D4D" text-anchor="end" font-weight="normal">0</text>
<text x="229.2" y="1091" font-size="31.5" fill="#4D4D4D" text-anchor="middle" font-weight="normal">0.0</text>
<text x="355.8" y="1091" font-size="31.5" fill="#4D4D4D" text-anchor="middle" font-weight="normal">0.3</text>
<text x="480.8" y="1091" font-size="31.5" fill="#4D4D4D" text-anchor="middle" font-weight="normal">0.6</text>
<text x="370" y="1132.5" font-size="40" fill="#000" text-anchor="middle" font-weight="normal">Temperature change/decade (°C)</text>
<text x="76.3" y="822.5" font-size="39.8" fill="#000" text-anchor="middle" font-weight="normal" transform="rotate(-90 76.3 822.5)">Colonising species/decade</text>
<text x="573" y="653.8" font-size="75" fill="#FF2200" text-anchor="middle" font-weight="bold">*</text>
</g>
<g id="panel-d">
<g opacity="0.36">
<g fill="#7CAE00"><circle cx="838.4" cy="950.2" r="4.5"/><circle cx="910.3" cy="951.1" r="4.5"/><circle cx="898.3" cy="954.1" r="4.5"/><circle cx="975.9" cy="964.4" r="4.5"/></g>
<g fill="#00BFC4"><circle cx="740" cy="893.1" r="4.5"/><circle cx="905.3" cy="923.4" r="4.5"/><circle cx="740" cy="945.7" r="4.5"/><circle cx="751.6" cy="945.7" r="4.5"/><circle cx="806.5" cy="945.7" r="4.5"/><circle cx="821.1" cy="945.7" r="4.5"/><circle cx="845.2" cy="945.4" r="4.5"/><circle cx="918.3" cy="955.9" r="4.5"/><circle cx="924.5" cy="955.9" r="4.5"/><circle cx="744.4" cy="957.3" r="4.5"/><circle cx="795.2" cy="957.3" r="4.5"/><circle cx="848.7" cy="957.3" r="4.5"/><circle cx="965.2" cy="966.6" r="4.5"/><circle cx="983.3" cy="966.6" r="4.5"/><circle cx="993.7" cy="966.6" r="4.5"/></g>
<g fill="#C77CFF"><circle cx="923.6" cy="930.9" r="4.5"/><circle cx="751.6" cy="954.1" r="4.5"/><circle cx="782.2" cy="953.4" r="4.5"/><circle cx="793.5" cy="953.4" r="4.5"/><circle cx="808.1" cy="953.4" r="4.5"/><circle cx="848.7" cy="953.4" r="4.5"/></g>
</g>
<g opacity="0.6">
<g fill="#F8766D"><circle cx="759" cy="861.9" r="4.5"/><circle cx="766.2" cy="867.8" r="4.5"/><circle cx="777.9" cy="867.8" r="4.5"/><circle cx="801.8" cy="867.8" r="4.5"/><circle cx="819.8" cy="867.8" r="4.5"/><circle cx="740.9" cy="873.5" r="4.5"/><circle cx="787.2" cy="873.5" r="4.5"/><circle cx="888.9" cy="874" r="4.5"/><circle cx="740" cy="881.5" r="4.5"/><circle cx="832.2" cy="881.2" r="4.5"/><circle cx="854.4" cy="881.2" r="4.5"/><circle cx="761.4" cy="887.4" r="4.5"/><circle cx="869.4" cy="887.4" r="4.5"/><circle cx="745.3" cy="893.5" r="4.5"/><circle cx="828.6" cy="893.1" r="4.5"/><circle cx="768.5" cy="899.7" r="4.5"/><circle cx="773" cy="899.7" r="4.5"/><circle cx="740.9" cy="899.7" r="4.5"/><circle cx="810.4" cy="906.5" r="4.5"/><circle cx="871.6" cy="906.1" r="4.5"/><circle cx="800.6" cy="913.1" r="4.5"/><circle cx="858.5" cy="912.7" r="4.5"/><circle cx="869.4" cy="912.7" r="4.5"/><circle cx="814.9" cy="919" r="4.5"/><circle cx="856.4" cy="944.8" r="4.5"/><circle cx="754.2" cy="945.7" r="4.5"/><circle cx="989.6" cy="874" r="4.5"/><circle cx="1019.9" cy="906.5" r="4.5"/></g>
<g fill="#7CAE00"><circle cx="762.8" cy="918.1" r="4.5"/><circle cx="747.1" cy="922.5" r="4.5"/><circle cx="777.4" cy="922.2" r="4.5"/><circle cx="790.4" cy="922.5" r="4.5"/><circle cx="818.1" cy="922.5" r="4.5"/><circle cx="738.2" cy="932.3" r="4.5"/><circle cx="857.1" cy="931.4" r="4.5"/><circle cx="858.5" cy="935.9" r="4.5"/><circle cx="762.3" cy="946.2" r="4.5"/><circle cx="762.3" cy="963.2" r="4.5"/><circle cx="773" cy="963.2" r="4.5"/><circle cx="1124.2" cy="927.3" r="4.5"/></g>
<g fill="#00BFC4"><circle cx="859.4" cy="892.8" r="4.5"/><circle cx="804.5" cy="902.9" r="4.5"/><circle cx="767.6" cy="914.5" r="4.5"/><circle cx="791.7" cy="914.5" r="4.5"/><circle cx="918.3" cy="914.1" r="4.5"/><circle cx="740" cy="924.3" r="4.5"/><circle cx="771.2" cy="924.3" r="4.5"/><circle cx="780.1" cy="924.3" r="4.5"/><circle cx="801" cy="924.3" r="4.5"/><circle cx="861.6" cy="935" r="4.5"/><circle cx="748" cy="935.9" r="4.5"/><circle cx="784.5" cy="935.9" r="4.5"/><circle cx="792.6" cy="935.9" r="4.5"/><circle cx="869.8" cy="966.6" r="4.5"/><circle cx="1157.7" cy="924.5" r="4.5"/></g>
<g fill="#C77CFF"><circle cx="745.8" cy="861" r="4.5"/><circle cx="773" cy="861.9" r="4.5"/><circle cx="777.4" cy="861.9" r="4.5"/><circle cx="804.5" cy="861.9" r="4.5"/><circle cx="865.3" cy="861.9" r="4.5"/><circle cx="844.6" cy="884.5" r="4.5"/><circle cx="848.7" cy="884.5" r="4.5"/><circle cx="914.5" cy="884.5" r="4.5"/><circle cx="748.9" cy="907.7" r="4.5"/><circle cx="766.7" cy="907.7" r="4.5"/><circle cx="780.1" cy="907.7" r="4.5"/><circle cx="802.4" cy="907.4" r="4.5"/><circle cx="818.4" cy="907.7" r="4.5"/><circle cx="835.7" cy="907.7" r="4.5"/><circle cx="874.6" cy="907.7" r="4.5"/><circle cx="910.3" cy="907.7" r="4.5"/><circle cx="919.2" cy="907.7" r="4.5"/><circle cx="843.4" cy="930.9" r="4.5"/><circle cx="847.3" cy="930.9" r="4.5"/><circle cx="961.9" cy="885.1" r="4.5"/><circle cx="980.8" cy="907.7" r="4.5"/><circle cx="990.1" cy="977.3" r="4.5"/><circle cx="1165.4" cy="977.3" r="4.5"/></g>
</g>
<g opacity="1.0">
<g fill="#F8766D"><circle cx="809.2" cy="643.5" r="4.5"/><circle cx="785.4" cy="701.5" r="4.5"/><circle cx="824.4" cy="746.4" r="4.5"/><circle cx="769.1" cy="759" r="4.5"/><circle cx="751.6" cy="778.4" r="4.5"/><circle cx="740.1" cy="797.7" r="4.5"/><circle cx="785.4" cy="817" r="4.5"/><circle cx="801.4" cy="835.9" r="4.5"/><circle cx="763.5" cy="842.6" r="4.5"/><circle cx="802.5" cy="848.6" r="4.5"/><circle cx="761.3" cy="848.6" r="4.5"/><circle cx="737.9" cy="854.9" r="4.5"/><circle cx="736.4" cy="887.4" r="4.5"/><circle cx="738.2" cy="906.1" r="4.5"/><circle cx="737.3" cy="927" r="4.5"/><circle cx="773.8" cy="927" r="4.5"/><circle cx="737.3" cy="938.6" r="4.5"/><circle cx="736.8" cy="963.5" r="4.5"/></g>
<g fill="#7CAE00"><circle cx="738.2" cy="912.7" r="4.5"/><circle cx="739.1" cy="917.2" r="4.5"/><circle cx="799.7" cy="932" r="4.5"/><circle cx="804.2" cy="967.6" r="4.5"/><circle cx="823.2" cy="967.6" r="4.5"/><circle cx="861.8" cy="968" r="4.5"/><circle cx="741.7" cy="972.5" r="4.5"/><circle cx="748" cy="972.5" r="4.5"/><circle cx="774.7" cy="972.5" r="4.5"/><circle cx="792.6" cy="972.5" r="4.5"/><circle cx="807.7" cy="973" r="4.5"/><circle cx="817" cy="973" r="4.5"/><circle cx="836.3" cy="973" r="4.5"/><circle cx="898.7" cy="973" r="4.5"/><circle cx="905.8" cy="973" r="4.5"/><circle cx="909.4" cy="973" r="4.5"/><circle cx="768.5" cy="977.3" r="4.5"/><circle cx="790.4" cy="977.3" r="4.5"/><circle cx="829.1" cy="977.3" r="4.5"/><circle cx="833.6" cy="977.3" r="4.5"/><circle cx="838.4" cy="977.3" r="4.5"/><circle cx="949.1" cy="977.3" r="4.5"/><circle cx="962.5" cy="977.3" r="4.5"/></g>
<g fill="#00BFC4"><circle cx="745.3" cy="841.1" r="4.5"/><circle cx="736.8" cy="967.1" r="4.5"/><circle cx="748.3" cy="967.1" r="4.5"/><circle cx="764.4" cy="967.1" r="4.5"/><circle cx="773.8" cy="967.1" r="4.5"/><circle cx="778.7" cy="967.1" r="4.5"/><circle cx="812.2" cy="967.1" r="4.5"/><circle cx="818.4" cy="967.1" r="4.5"/><circle cx="832.7" cy="967.1" r="4.5"/><circle cx="844.8" cy="967.1" r="4.5"/><circle cx="740.9" cy="977.3" r="4.5"/><circle cx="748.9" cy="977.3" r="4.5"/><circle cx="774.7" cy="977.3" r="4.5"/><circle cx="848.2" cy="977.3" r="4.5"/><circle cx="916.1" cy="977.3" r="4.5"/></g>
<g fill="#C77CFF"><circle cx="740.1" cy="607.5" r="4.5"/><circle cx="740.1" cy="838.2" r="4.5"/><circle cx="744.6" cy="838.2" r="4.5"/><circle cx="740" cy="930.9" r="4.5"/><circle cx="748.9" cy="930.9" r="4.5"/><circle cx="768" cy="930.9" r="4.5"/><circle cx="780.1" cy="930.9" r="4.5"/><circle cx="784.5" cy="930.9" r="4.5"/><circle cx="792.6" cy="930.9" r="4.5"/><circle cx="797" cy="930.9" r="4.5"/><circle cx="738.2" cy="954.1" r="4.5"/><circle cx="744.4" cy="977.3" r="4.5"/><circle cx="769.7" cy="977.3" r="4.5"/><circle cx="823.8" cy="977.3" r="4.5"/><circle cx="861.2" cy="977.3" r="4.5"/><circle cx="921" cy="977.3" r="4.5"/></g>
</g>
<line x1="739.1" y1="954.6" x2="905" y2="959.2" stroke="#7CAE00" stroke-width="3.8" stroke-opacity="1" stroke-linecap="butt"/>
<line x1="905" y1="959.2" x2="930" y2="959.9" stroke="#A9CC60" stroke-width="3.8" stroke-opacity="1" stroke-linecap="butt"/>
<line x1="930" y1="959.9" x2="1124.2" y2="965.3" stroke="#D3E3B0" stroke-width="3.8" stroke-opacity="1" stroke-linecap="butt"/>
<line x1="737.3" y1="942.1" x2="880" y2="947" stroke="#00BFC4" stroke-width="3.8" stroke-opacity="1" stroke-linecap="butt"/>
<line x1="880" y1="947" x2="900" y2="947.6" stroke="#40CFD3" stroke-width="3.8" stroke-opacity="1" stroke-linecap="butt"/>
<line x1="900" y1="947.6" x2="1157.7" y2="956.4" stroke="#7FD8DC" stroke-width="3.8" stroke-opacity="1" stroke-linecap="butt"/>
<line x1="739.1" y1="902" x2="1165.4" y2="966.2" stroke="#C77CFF" stroke-width="3.8" stroke-opacity="1" stroke-linecap="butt"/>
<line x1="737.3" y1="874" x2="1019.9" y2="878.5" stroke="#F8766D" stroke-width="3.8" stroke-opacity="1" stroke-linecap="butt"/>
<path d="M737.3,830.7C742.5,834 757.4,844.6 768.5,850.3C779.6,855.9 792.3,860.7 804.2,864.6C816.1,868.5 824.9,871.3 839.8,873.5C854.6,875.7 874.1,876.9 893.3,878C912.5,879.1 909.6,878.3 955,880C1000.4,881.7 1130.3,886.9 1165.4,888.3L1165.4,966C1156.2,964.9 1128.1,961.8 1110,959.5C1091.9,957.2 1075.3,954.9 1057,952C1038.7,949.1 1017,945.4 1000,942C983,938.6 972.8,935.3 955,931.5C937.2,927.7 912.5,923.3 893.3,919C874.1,914.7 857.6,909.9 839.8,905.6C822,901.3 803.4,896.5 786.3,893.1C769.2,889.7 745.5,886.4 737.3,885.1Z" fill="#76B9EC" fill-opacity="0.27"/>
<path d="M737.3,861.9C745.5,864.7 769.2,873.8 786.3,878.8C803.4,883.8 822,888.1 839.8,892.2C857.6,896.3 874.1,899.7 893.3,903.5C912.5,907.3 930.7,910.9 955,915C979.3,919.1 1010.3,924.3 1039.2,928.4C1068.1,932.5 1107.3,937 1128.3,939.5C1149.3,942 1159.2,942.8 1165.4,943.4" fill="none" stroke="#2242D2" stroke-width="4.1"/>
<rect x="718" y="588.2" width="466.8" height="466.6" fill="none" stroke="#000" stroke-width="4.5"/>
<text x="705.2" y="642.6" font-size="31.5" fill="#4D4D4D" text-anchor="end" font-weight="normal">15</text>
<text x="705.2" y="757.6" font-size="31.5" fill="#4D4D4D" text-anchor="end" font-weight="normal">10</text>
<text x="705.2" y="872.6" font-size="31.5" fill="#4D4D4D" text-anchor="end" font-weight="normal">5</text>
<text x="705.2" y="987.6" font-size="31.5" fill="#4D4D4D" text-anchor="end" font-weight="normal">0</text>
<text x="736.8" y="1091" font-size="31.5" fill="#4D4D4D" text-anchor="middle" font-weight="normal">0.000</text>
<text x="851.3" y="1091" font-size="31.5" fill="#4D4D4D" text-anchor="middle" font-weight="normal">0.025</text>
<text x="966.3" y="1091" font-size="31.5" fill="#4D4D4D" text-anchor="middle" font-weight="normal">0.050</text>
<text x="1081.3" y="1091" font-size="31.5" fill="#4D4D4D" text-anchor="middle" font-weight="normal">0.075</text>
<text x="951" y="1131.9" font-size="39.8" fill="#000" text-anchor="middle" font-weight="normal">Human settlements</text>
<circle cx="1153.9" cy="609.7" r="10.05" fill="none" stroke="#FF2200" stroke-width="4.6"/>
</g>
<g id="legend">
<rect x="1223.3" y="249.1" width="34" height="137" fill="#F5F5F5"/>
<text x="1223.7" y="229.2" font-size="35.4" fill="#000" text-anchor="start" font-weight="normal">period</text>
<line x1="1226.7" y1="266.6" x2="1254.5" y2="266.6" stroke="#F8766D" stroke-width="4.6" stroke-opacity="1" stroke-linecap="butt"/>
<circle cx="1240.6" cy="266.6" r="4.8" fill="#F98B83"/>
<text x="1275.5" y="278" font-size="32.2" fill="#000" text-anchor="start" font-weight="normal">1936</text>
<line x1="1226.7" y1="300.9" x2="1254.5" y2="300.9" stroke="#7CAE00" stroke-width="4.6" stroke-opacity="1" stroke-linecap="butt"/>
<circle cx="1240.6" cy="300.9" r="4.8" fill="#90BA26"/>
<text x="1275.5" y="312.3" font-size="32.2" fill="#000" text-anchor="start" font-weight="normal">1987</text>
<line x1="1226.7" y1="335.3" x2="1254.5" y2="335.3" stroke="#00BFC4" stroke-width="4.6" stroke-opacity="1" stroke-linecap="butt"/>
<circle cx="1240.6" cy="335.3" r="4.8" fill="#26C9CD"/>
<text x="1275.5" y="346.7" font-size="32.2" fill="#000" text-anchor="start" font-weight="normal">2009</text>
<line x1="1226.7" y1="369.6" x2="1254.5" y2="369.6" stroke="#C77CFF" stroke-width="4.6" stroke-opacity="1" stroke-linecap="butt"/>
<circle cx="1240.6" cy="369.6" r="4.8" fill="#CF90FF"/>
<text x="1275.5" y="381" font-size="32.2" fill="#000" text-anchor="start" font-weight="normal">2019</text>
</g>
<g id="legend">
<rect x="1223.3" y="819.7" width="34" height="137" fill="#F5F5F5"/>
<text x="1223.7" y="799.8" font-size="35.4" fill="#000" text-anchor="start" font-weight="normal">period</text>
<line x1="1226.7" y1="837.2" x2="1254.5" y2="837.2" stroke="#F8766D" stroke-width="4.6" stroke-opacity="1" stroke-linecap="butt"/>
<circle cx="1240.6" cy="837.2" r="4.8" fill="#F98B83"/>
<text x="1275.5" y="848.6" font-size="32.2" fill="#000" text-anchor="start" font-weight="normal">1936</text>
<line x1="1226.7" y1="871.5" x2="1254.5" y2="871.5" stroke="#7CAE00" stroke-width="4.6" stroke-opacity="1" stroke-linecap="butt"/>
<circle cx="1240.6" cy="871.5" r="4.8" fill="#90BA26"/>
<text x="1275.5" y="882.9" font-size="32.2" fill="#000" text-anchor="start" font-weight="normal">1987</text>
<line x1="1226.7" y1="905.9" x2="1254.5" y2="905.9" stroke="#00BFC4" stroke-width="4.6" stroke-opacity="1" stroke-linecap="butt"/>
<circle cx="1240.6" cy="905.9" r="4.8" fill="#26C9CD"/>
<text x="1275.5" y="917.3" font-size="32.2" fill="#000" text-anchor="start" font-weight="normal">2009</text>
<line x1="1226.7" y1="940.2" x2="1254.5" y2="940.2" stroke="#C77CFF" stroke-width="4.6" stroke-opacity="1" stroke-linecap="butt"/>
<circle cx="1240.6" cy="940.2" r="4.8" fill="#CF90FF"/>
<text x="1275.5" y="951.6" font-size="32.2" fill="#000" text-anchor="start" font-weight="normal">2019</text>
</g>
<text transform="translate(0.5,41) scale(0.854,1)" font-size="54" font-weight="bold" fill="#000">a<tspan dx="3.5" dy="-1.3" font-size="52.4">)</tspan></text>
<text transform="translate(633,41) scale(0.93,1)" font-size="54" font-weight="bold" fill="#000">b<tspan dx="0.6" dy="-1.9" font-size="52.4">)</tspan></text>
<text transform="translate(-1,598.7) scale(0.815,1)" font-size="54" font-weight="bold" fill="#000">c<tspan dx="2" dy="-1.9" font-size="52.4">)</tspan></text>
<text transform="translate(633,599) scale(0.91,1)" font-size="54" font-weight="bold" fill="#000">d<tspan dx="1.5" dy="-1.9" font-size="52.4">)</tspan></text>
<text transform="translate(-0.5,1197.7) scale(0.95,1)" font-size="54" font-weight="bold" fill="#000">e<tspan dx="0.5" dy="-1.9" font-size="52.4">)</tspan></text>
<g id="panel-e">
<line x1="284.2" y1="1245.3" x2="284.2" y2="1323.8" stroke="#666" stroke-width="1.35" stroke-opacity="1" stroke-linecap="butt"/>
<line x1="284.2" y1="1394.7" x2="284.2" y2="1451.8" stroke="#666" stroke-width="1.35" stroke-opacity="1" stroke-linecap="butt"/>
<rect x="276.7" y="1323.8" width="15" height="70.9" fill="#90EE90" stroke="#555" stroke-width="1.1"/>
<line x1="276.7" y1="1353.2" x2="291.7" y2="1353.2" stroke="#333" stroke-width="2.2" stroke-opacity="1" stroke-linecap="butt"/>
<line x1="300.7" y1="1245.3" x2="300.7" y2="1321.5" stroke="#666" stroke-width="1.35" stroke-opacity="1" stroke-linecap="butt"/>
<line x1="300.7" y1="1393.4" x2="300.7" y2="1450.8" stroke="#666" stroke-width="1.35" stroke-opacity="1" stroke-linecap="butt"/>
<rect x="293.2" y="1321.5" width="15" height="71.9" fill="#84E284" stroke="#555" stroke-width="1.1"/>
<line x1="293.2" y1="1348.2" x2="308.2" y2="1348.2" stroke="#333" stroke-width="2.2" stroke-opacity="1" stroke-linecap="butt"/>
<line x1="317.2" y1="1245.3" x2="317.2" y2="1316.5" stroke="#666" stroke-width="1.35" stroke-opacity="1" stroke-linecap="butt"/>
<line x1="317.2" y1="1391.4" x2="317.2" y2="1450.1" stroke="#666" stroke-width="1.35" stroke-opacity="1" stroke-linecap="butt"/>
<rect x="309.7" y="1316.5" width="15" height="74.9" fill="#78D778" stroke="#555" stroke-width="1.1"/>
<line x1="309.7" y1="1341.2" x2="324.7" y2="1341.2" stroke="#333" stroke-width="2.2" stroke-opacity="1" stroke-linecap="butt"/>
<line x1="333.7" y1="1245.3" x2="333.7" y2="1314.5" stroke="#666" stroke-width="1.35" stroke-opacity="1" stroke-linecap="butt"/>
<line x1="333.7" y1="1390.7" x2="333.7" y2="1502.9" stroke="#666" stroke-width="1.35" stroke-opacity="1" stroke-linecap="butt"/>
<rect x="326.2" y="1314.5" width="15" height="76.2" fill="#6CCC6C" stroke="#555" stroke-width="1.1"/>
<line x1="326.2" y1="1339.9" x2="341.2" y2="1339.9" stroke="#333" stroke-width="2.2" stroke-opacity="1" stroke-linecap="butt"/>
<line x1="350.2" y1="1241.2" x2="350.2" y2="1307.1" stroke="#666" stroke-width="1.35" stroke-opacity="1" stroke-linecap="butt"/>
<line x1="350.2" y1="1389.4" x2="350.2" y2="1501.9" stroke="#666" stroke-width="1.35" stroke-opacity="1" stroke-linecap="butt"/>
<rect x="342.7" y="1307.1" width="15" height="82.3" fill="#60C060" stroke="#555" stroke-width="1.1"/>
<line x1="342.7" y1="1336.9" x2="357.7" y2="1336.9" stroke="#333" stroke-width="2.2" stroke-opacity="1" stroke-linecap="butt"/>
<line x1="366.7" y1="1216.2" x2="366.7" y2="1303.1" stroke="#666" stroke-width="1.35" stroke-opacity="1" stroke-linecap="butt"/>
<line x1="366.7" y1="1387.7" x2="366.7" y2="1501.2" stroke="#666" stroke-width="1.35" stroke-opacity="1" stroke-linecap="butt"/>
<rect x="359.2" y="1303.1" width="15" height="84.6" fill="#54B454" stroke="#555" stroke-width="1.1"/>
<line x1="359.2" y1="1334.9" x2="374.2" y2="1334.9" stroke="#333" stroke-width="2.2" stroke-opacity="1" stroke-linecap="butt"/>
<line x1="383.2" y1="1216.2" x2="383.2" y2="1303.1" stroke="#666" stroke-width="1.35" stroke-opacity="1" stroke-linecap="butt"/>
<line x1="383.2" y1="1388.4" x2="383.2" y2="1501.2" stroke="#666" stroke-width="1.35" stroke-opacity="1" stroke-linecap="butt"/>
<rect x="375.7" y="1303.1" width="15" height="85.3" fill="#48A948" stroke="#555" stroke-width="1.1"/>
<line x1="375.7" y1="1339.2" x2="390.7" y2="1339.2" stroke="#333" stroke-width="2.2" stroke-opacity="1" stroke-linecap="butt"/>
<line x1="399.7" y1="1212.8" x2="399.7" y2="1296.1" stroke="#666" stroke-width="1.35" stroke-opacity="1" stroke-linecap="butt"/>
<line x1="399.7" y1="1373.3" x2="399.7" y2="1445.1" stroke="#666" stroke-width="1.35" stroke-opacity="1" stroke-linecap="butt"/>
<rect x="392.2" y="1296.1" width="15" height="77.2" fill="#3C9E3C" stroke="#555" stroke-width="1.1"/>
<line x1="392.2" y1="1334.2" x2="407.2" y2="1334.2" stroke="#333" stroke-width="2.2" stroke-opacity="1" stroke-linecap="butt"/>
<line x1="416.2" y1="1220.2" x2="416.2" y2="1279.4" stroke="#666" stroke-width="1.35" stroke-opacity="1" stroke-linecap="butt"/>
<line x1="416.2" y1="1370.6" x2="416.2" y2="1487.5" stroke="#666" stroke-width="1.35" stroke-opacity="1" stroke-linecap="butt"/>
<rect x="408.7" y="1279.4" width="15" height="91.2" fill="#309230" stroke="#555" stroke-width="1.1"/>
<line x1="408.7" y1="1324.8" x2="423.7" y2="1324.8" stroke="#333" stroke-width="2.2" stroke-opacity="1" stroke-linecap="butt"/>
<line x1="432.7" y1="1234.2" x2="432.7" y2="1282" stroke="#666" stroke-width="1.35" stroke-opacity="1" stroke-linecap="butt"/>
<line x1="432.7" y1="1371.3" x2="432.7" y2="1482.5" stroke="#666" stroke-width="1.35" stroke-opacity="1" stroke-linecap="butt"/>
<rect x="425.2" y="1282" width="15" height="89.3" fill="#248624" stroke="#555" stroke-width="1.1"/>
<line x1="425.2" y1="1325.2" x2="440.2" y2="1325.2" stroke="#333" stroke-width="2.2" stroke-opacity="1" stroke-linecap="butt"/>
<line x1="449.2" y1="1234.2" x2="449.2" y2="1277.7" stroke="#666" stroke-width="1.35" stroke-opacity="1" stroke-linecap="butt"/>
<line x1="449.2" y1="1367.3" x2="449.2" y2="1469.1" stroke="#666" stroke-width="1.35" stroke-opacity="1" stroke-linecap="butt"/>
<rect x="441.7" y="1277.7" width="15" height="89.6" fill="#187B18" stroke="#555" stroke-width="1.1"/>
<line x1="441.7" y1="1325.5" x2="456.7" y2="1325.5" stroke="#333" stroke-width="2.2" stroke-opacity="1" stroke-linecap="butt"/>
<line x1="465.7" y1="1234.2" x2="465.7" y2="1278.4" stroke="#666" stroke-width="1.35" stroke-opacity="1" stroke-linecap="butt"/>
<line x1="465.7" y1="1362" x2="465.7" y2="1468.1" stroke="#666" stroke-width="1.35" stroke-opacity="1" stroke-linecap="butt"/>
<rect x="458.2" y="1278.4" width="15" height="83.6" fill="#0C700C" stroke="#555" stroke-width="1.1"/>
<line x1="458.2" y1="1322.2" x2="473.2" y2="1322.2" stroke="#333" stroke-width="2.2" stroke-opacity="1" stroke-linecap="butt"/>
<line x1="482.2" y1="1234.2" x2="482.2" y2="1278.4" stroke="#666" stroke-width="1.35" stroke-opacity="1" stroke-linecap="butt"/>
<line x1="482.2" y1="1362" x2="482.2" y2="1468.1" stroke="#666" stroke-width="1.35" stroke-opacity="1" stroke-linecap="butt"/>
<rect x="474.7" y="1278.4" width="15" height="83.6" fill="#006400" stroke="#555" stroke-width="1.1"/>
<line x1="474.7" y1="1322.2" x2="489.7" y2="1322.2" stroke="#333" stroke-width="2.2" stroke-opacity="1" stroke-linecap="butt"/>
<g fill="#333">
<circle cx="284.2" cy="1509.6" r="4"/>
<circle cx="284.2" cy="1523.6" r="4"/>
<circle cx="300.7" cy="1505.6" r="4"/>
<circle cx="300.7" cy="1521.6" r="4"/>
<circle cx="317.2" cy="1503.9" r="4"/>
<circle cx="317.2" cy="1521.3" r="4"/>
<circle cx="333.7" cy="1521.3" r="4"/>
<circle cx="350.2" cy="1521.3" r="4"/>
<circle cx="366.7" cy="1521" r="4"/>
<circle cx="383.2" cy="1520.6" r="4"/>
<circle cx="399.7" cy="1499.9" r="4"/>
<circle cx="399.7" cy="1516" r="4"/>
<circle cx="416.2" cy="1514.6" r="4"/>
<circle cx="432.7" cy="1513.3" r="4"/>
<circle cx="449.2" cy="1512.9" r="4"/>
<circle cx="465.7" cy="1513.9" r="4"/>
<circle cx="482.2" cy="1513.9" r="4"/>
</g>
<text x="290" y="1620.4" font-size="18" fill="#222" text-anchor="start" font-weight="normal" transform="rotate(-90 290 1620.4)" textLength="36.7" lengthAdjust="spacingAndGlyphs" stroke="#222" stroke-width="0.3">1900</text>
<text x="306.5" y="1620.4" font-size="18" fill="#222" text-anchor="start" font-weight="normal" transform="rotate(-90 306.5 1620.4)" textLength="36.7" lengthAdjust="spacingAndGlyphs" stroke="#222" stroke-width="0.3">1910</text>
<text x="323" y="1620.4" font-size="18" fill="#222" text-anchor="start" font-weight="normal" transform="rotate(-90 323 1620.4)" textLength="36.7" lengthAdjust="spacingAndGlyphs" stroke="#222" stroke-width="0.3">1920</text>
<text x="339.5" y="1620.4" font-size="18" fill="#222" text-anchor="start" font-weight="normal" transform="rotate(-90 339.5 1620.4)" textLength="36.7" lengthAdjust="spacingAndGlyphs" stroke="#222" stroke-width="0.3">1930</text>
<text x="356" y="1620.4" font-size="18" fill="#222" text-anchor="start" font-weight="normal" transform="rotate(-90 356 1620.4)" textLength="36.7" lengthAdjust="spacingAndGlyphs" stroke="#222" stroke-width="0.3">1940</text>
<text x="372.5" y="1620.4" font-size="18" fill="#222" text-anchor="start" font-weight="normal" transform="rotate(-90 372.5 1620.4)" textLength="36.7" lengthAdjust="spacingAndGlyphs" stroke="#222" stroke-width="0.3">1950</text>
<text x="389" y="1620.4" font-size="18" fill="#222" text-anchor="start" font-weight="normal" transform="rotate(-90 389 1620.4)" textLength="36.7" lengthAdjust="spacingAndGlyphs" stroke="#222" stroke-width="0.3">1960</text>
<text x="405.5" y="1620.4" font-size="18" fill="#222" text-anchor="start" font-weight="normal" transform="rotate(-90 405.5 1620.4)" textLength="36.7" lengthAdjust="spacingAndGlyphs" stroke="#222" stroke-width="0.3">1970</text>
<text x="422" y="1620.4" font-size="18" fill="#222" text-anchor="start" font-weight="normal" transform="rotate(-90 422 1620.4)" textLength="36.7" lengthAdjust="spacingAndGlyphs" stroke="#222" stroke-width="0.3">1980</text>
<text x="438.5" y="1620.4" font-size="18" fill="#222" text-anchor="start" font-weight="normal" transform="rotate(-90 438.5 1620.4)" textLength="36.7" lengthAdjust="spacingAndGlyphs" stroke="#222" stroke-width="0.3">1990</text>
<text x="455" y="1620.4" font-size="18" fill="#222" text-anchor="start" font-weight="normal" transform="rotate(-90 455 1620.4)" textLength="36.7" lengthAdjust="spacingAndGlyphs" stroke="#222" stroke-width="0.3">2000</text>
<text x="471.5" y="1620.4" font-size="18" fill="#222" text-anchor="start" font-weight="normal" transform="rotate(-90 471.5 1620.4)" textLength="36.7" lengthAdjust="spacingAndGlyphs" stroke="#222" stroke-width="0.3">2010</text>
<text x="488" y="1620.4" font-size="18" fill="#222" text-anchor="start" font-weight="normal" transform="rotate(-90 488 1620.4)" textLength="36.7" lengthAdjust="spacingAndGlyphs" stroke="#222" stroke-width="0.3">2019</text>
<line x1="569.9" y1="1266.3" x2="569.9" y2="1425.4" stroke="#666" stroke-width="1.35" stroke-opacity="1" stroke-linecap="butt"/>
<line x1="569.9" y1="1533.1" x2="569.9" y2="1559.8" stroke="#666" stroke-width="1.35" stroke-opacity="1" stroke-linecap="butt"/>
<rect x="562.4" y="1425.4" width="15" height="107.7" fill="#ADFF2F" stroke="#555" stroke-width="1.1"/>
<line x1="562.4" y1="1506.3" x2="577.4" y2="1506.3" stroke="#333" stroke-width="2.2" stroke-opacity="1" stroke-linecap="butt"/>
<line x1="586.4" y1="1335.4" x2="586.4" y2="1430.8" stroke="#666" stroke-width="1.35" stroke-opacity="1" stroke-linecap="butt"/>
<line x1="586.4" y1="1534.2" x2="586.4" y2="1559.2" stroke="#666" stroke-width="1.35" stroke-opacity="1" stroke-linecap="butt"/>
<rect x="578.9" y="1430.8" width="15" height="103.4" fill="#A3FB2F" stroke="#555" stroke-width="1.1"/>
<line x1="578.9" y1="1507.5" x2="593.9" y2="1507.5" stroke="#333" stroke-width="2.2" stroke-opacity="1" stroke-linecap="butt"/>
<line x1="603" y1="1336.3" x2="603" y2="1436.6" stroke="#666" stroke-width="1.35" stroke-opacity="1" stroke-linecap="butt"/>
<line x1="603" y1="1534.6" x2="603" y2="1559.8" stroke="#666" stroke-width="1.35" stroke-opacity="1" stroke-linecap="butt"/>
<rect x="595.5" y="1436.6" width="15" height="98" fill="#98F730" stroke="#555" stroke-width="1.1"/>
<line x1="595.5" y1="1509.7" x2="610.5" y2="1509.7" stroke="#333" stroke-width="2.2" stroke-opacity="1" stroke-linecap="butt"/>
<line x1="619.5" y1="1337.6" x2="619.5" y2="1445.3" stroke="#666" stroke-width="1.35" stroke-opacity="1" stroke-linecap="butt"/>
<line x1="619.5" y1="1534.6" x2="619.5" y2="1559.2" stroke="#666" stroke-width="1.35" stroke-opacity="1" stroke-linecap="butt"/>
<rect x="612" y="1445.3" width="15" height="89.3" fill="#8EF230" stroke="#555" stroke-width="1.1"/>
<line x1="612" y1="1511.9" x2="627" y2="1511.9" stroke="#333" stroke-width="2.2" stroke-opacity="1" stroke-linecap="butt"/>
<line x1="636" y1="1339.4" x2="636" y2="1451.1" stroke="#666" stroke-width="1.35" stroke-opacity="1" stroke-linecap="butt"/>
<line x1="636" y1="1534.6" x2="636" y2="1559.2" stroke="#666" stroke-width="1.35" stroke-opacity="1" stroke-linecap="butt"/>
<rect x="628.5" y="1451.1" width="15" height="83.5" fill="#84EE30" stroke="#555" stroke-width="1.1"/>
<line x1="628.5" y1="1516.4" x2="643.5" y2="1516.4" stroke="#333" stroke-width="2.2" stroke-opacity="1" stroke-linecap="butt"/>
<line x1="652.5" y1="1388.7" x2="652.5" y2="1458.2" stroke="#666" stroke-width="1.35" stroke-opacity="1" stroke-linecap="butt"/>
<line x1="652.5" y1="1533.5" x2="652.5" y2="1559.2" stroke="#666" stroke-width="1.35" stroke-opacity="1" stroke-linecap="butt"/>
<rect x="645" y="1458.2" width="15" height="75.3" fill="#7AEA30" stroke="#555" stroke-width="1.1"/>
<line x1="645" y1="1515.3" x2="660" y2="1515.3" stroke="#333" stroke-width="2.2" stroke-opacity="1" stroke-linecap="butt"/>
<line x1="669.1" y1="1388.7" x2="669.1" y2="1458.2" stroke="#666" stroke-width="1.35" stroke-opacity="1" stroke-linecap="butt"/>
<line x1="669.1" y1="1531.1" x2="669.1" y2="1559.2" stroke="#666" stroke-width="1.35" stroke-opacity="1" stroke-linecap="butt"/>
<rect x="661.6" y="1458.2" width="15" height="72.9" fill="#70E630" stroke="#555" stroke-width="1.1"/>
<line x1="661.6" y1="1514.8" x2="676.6" y2="1514.8" stroke="#333" stroke-width="2.2" stroke-opacity="1" stroke-linecap="butt"/>
<line x1="685.6" y1="1395.3" x2="685.6" y2="1473.8" stroke="#666" stroke-width="1.35" stroke-opacity="1" stroke-linecap="butt"/>
<line x1="685.6" y1="1529.1" x2="685.6" y2="1554.3" stroke="#666" stroke-width="1.35" stroke-opacity="1" stroke-linecap="butt"/>
<rect x="678.1" y="1473.8" width="15" height="55.3" fill="#65E231" stroke="#555" stroke-width="1.1"/>
<line x1="678.1" y1="1505" x2="693.1" y2="1505" stroke="#333" stroke-width="2.2" stroke-opacity="1" stroke-linecap="butt"/>
<line x1="702.1" y1="1437.2" x2="702.1" y2="1488.5" stroke="#666" stroke-width="1.35" stroke-opacity="1" stroke-linecap="butt"/>
<line x1="702.1" y1="1528.4" x2="702.1" y2="1551.6" stroke="#666" stroke-width="1.35" stroke-opacity="1" stroke-linecap="butt"/>
<rect x="694.6" y="1488.5" width="15" height="39.9" fill="#5BDE31" stroke="#555" stroke-width="1.1"/>
<line x1="694.6" y1="1509.7" x2="709.6" y2="1509.7" stroke="#333" stroke-width="2.2" stroke-opacity="1" stroke-linecap="butt"/>
<line x1="718.7" y1="1428.6" x2="718.7" y2="1482.3" stroke="#666" stroke-width="1.35" stroke-opacity="1" stroke-linecap="butt"/>
<line x1="718.7" y1="1519.9" x2="718.7" y2="1548.2" stroke="#666" stroke-width="1.35" stroke-opacity="1" stroke-linecap="butt"/>
<rect x="711.2" y="1482.3" width="15" height="37.6" fill="#51DA31" stroke="#555" stroke-width="1.1"/>
<line x1="711.2" y1="1508.1" x2="726.2" y2="1508.1" stroke="#333" stroke-width="2.2" stroke-opacity="1" stroke-linecap="butt"/>
<line x1="735.2" y1="1437.2" x2="735.2" y2="1485.4" stroke="#666" stroke-width="1.35" stroke-opacity="1" stroke-linecap="butt"/>
<line x1="735.2" y1="1519.9" x2="735.2" y2="1537.1" stroke="#666" stroke-width="1.35" stroke-opacity="1" stroke-linecap="butt"/>
<rect x="727.7" y="1485.4" width="15" height="34.5" fill="#46D532" stroke="#555" stroke-width="1.1"/>
<line x1="727.7" y1="1506.6" x2="742.7" y2="1506.6" stroke="#333" stroke-width="2.2" stroke-opacity="1" stroke-linecap="butt"/>
<line x1="751.7" y1="1435.2" x2="751.7" y2="1485.6" stroke="#666" stroke-width="1.35" stroke-opacity="1" stroke-linecap="butt"/>
<line x1="751.7" y1="1520.2" x2="751.7" y2="1544.9" stroke="#666" stroke-width="1.35" stroke-opacity="1" stroke-linecap="butt"/>
<rect x="744.2" y="1485.6" width="15" height="34.6" fill="#3CD132" stroke="#555" stroke-width="1.1"/>
<line x1="744.2" y1="1511.9" x2="759.2" y2="1511.9" stroke="#333" stroke-width="2.2" stroke-opacity="1" stroke-linecap="butt"/>
<line x1="768.3" y1="1435.2" x2="768.3" y2="1485.4" stroke="#666" stroke-width="1.35" stroke-opacity="1" stroke-linecap="butt"/>
<line x1="768.3" y1="1520.2" x2="768.3" y2="1544.9" stroke="#666" stroke-width="1.35" stroke-opacity="1" stroke-linecap="butt"/>
<rect x="760.8" y="1485.4" width="15" height="34.8" fill="#32CD32" stroke="#555" stroke-width="1.1"/>
<line x1="760.8" y1="1511.9" x2="775.8" y2="1511.9" stroke="#333" stroke-width="2.2" stroke-opacity="1" stroke-linecap="butt"/>
<g fill="#333">
<circle cx="586.4" cy="1270.3" r="4"/>
<circle cx="603" cy="1272.1" r="4"/>
<circle cx="619.5" cy="1273" r="4"/>
<circle cx="636" cy="1274.3" r="4"/>
<circle cx="652.5" cy="1275.2" r="4"/>
<circle cx="652.5" cy="1334.1" r="4"/>
<circle cx="652.5" cy="1339.4" r="4"/>
<circle cx="669.1" cy="1275.2" r="4"/>
<circle cx="669.1" cy="1334.1" r="4"/>
<circle cx="669.1" cy="1339.4" r="4"/>
<circle cx="685.6" cy="1276.1" r="4"/>
<circle cx="685.6" cy="1348.5" r="4"/>
<circle cx="702.1" cy="1288.6" r="4"/>
<circle cx="702.1" cy="1362.6" r="4"/>
<circle cx="702.1" cy="1407.8" r="4"/>
<circle cx="702.1" cy="1428.3" r="4"/>
<circle cx="718.7" cy="1293.9" r="4"/>
<circle cx="718.7" cy="1362.1" r="4"/>
<circle cx="718.7" cy="1404.7" r="4"/>
<circle cx="735.2" cy="1307.5" r="4"/>
<circle cx="735.2" cy="1362.1" r="4"/>
<circle cx="735.2" cy="1419.4" r="4"/>
<circle cx="735.2" cy="1427.9" r="4"/>
<circle cx="751.7" cy="1308.4" r="4"/>
<circle cx="751.7" cy="1375.3" r="4"/>
<circle cx="751.7" cy="1419.9" r="4"/>
<circle cx="768.3" cy="1308.4" r="4"/>
<circle cx="768.3" cy="1375.3" r="4"/>
<circle cx="768.3" cy="1419.9" r="4"/>
</g>
<text x="575.7" y="1620.4" font-size="18" fill="#222" text-anchor="start" font-weight="normal" transform="rotate(-90 575.7 1620.4)" textLength="36.7" lengthAdjust="spacingAndGlyphs" stroke="#222" stroke-width="0.3">1900</text>
<text x="592.2" y="1620.4" font-size="18" fill="#222" text-anchor="start" font-weight="normal" transform="rotate(-90 592.2 1620.4)" textLength="36.7" lengthAdjust="spacingAndGlyphs" stroke="#222" stroke-width="0.3">1910</text>
<text x="608.8" y="1620.4" font-size="18" fill="#222" text-anchor="start" font-weight="normal" transform="rotate(-90 608.8 1620.4)" textLength="36.7" lengthAdjust="spacingAndGlyphs" stroke="#222" stroke-width="0.3">1920</text>
<text x="625.3" y="1620.4" font-size="18" fill="#222" text-anchor="start" font-weight="normal" transform="rotate(-90 625.3 1620.4)" textLength="36.7" lengthAdjust="spacingAndGlyphs" stroke="#222" stroke-width="0.3">1930</text>
<text x="641.8" y="1620.4" font-size="18" fill="#222" text-anchor="start" font-weight="normal" transform="rotate(-90 641.8 1620.4)" textLength="36.7" lengthAdjust="spacingAndGlyphs" stroke="#222" stroke-width="0.3">1940</text>
<text x="658.3" y="1620.4" font-size="18" fill="#222" text-anchor="start" font-weight="normal" transform="rotate(-90 658.3 1620.4)" textLength="36.7" lengthAdjust="spacingAndGlyphs" stroke="#222" stroke-width="0.3">1950</text>
<text x="674.9" y="1620.4" font-size="18" fill="#222" text-anchor="start" font-weight="normal" transform="rotate(-90 674.9 1620.4)" textLength="36.7" lengthAdjust="spacingAndGlyphs" stroke="#222" stroke-width="0.3">1960</text>
<text x="691.4" y="1620.4" font-size="18" fill="#222" text-anchor="start" font-weight="normal" transform="rotate(-90 691.4 1620.4)" textLength="36.7" lengthAdjust="spacingAndGlyphs" stroke="#222" stroke-width="0.3">1970</text>
<text x="707.9" y="1620.4" font-size="18" fill="#222" text-anchor="start" font-weight="normal" transform="rotate(-90 707.9 1620.4)" textLength="36.7" lengthAdjust="spacingAndGlyphs" stroke="#222" stroke-width="0.3">1980</text>
<text x="724.5" y="1620.4" font-size="18" fill="#222" text-anchor="start" font-weight="normal" transform="rotate(-90 724.5 1620.4)" textLength="36.7" lengthAdjust="spacingAndGlyphs" stroke="#222" stroke-width="0.3">1990</text>
<text x="741" y="1620.4" font-size="18" fill="#222" text-anchor="start" font-weight="normal" transform="rotate(-90 741 1620.4)" textLength="36.7" lengthAdjust="spacingAndGlyphs" stroke="#222" stroke-width="0.3">2000</text>
<text x="757.5" y="1620.4" font-size="18" fill="#222" text-anchor="start" font-weight="normal" transform="rotate(-90 757.5 1620.4)" textLength="36.7" lengthAdjust="spacingAndGlyphs" stroke="#222" stroke-width="0.3">2010</text>
<text x="774.1" y="1620.4" font-size="18" fill="#222" text-anchor="start" font-weight="normal" transform="rotate(-90 774.1 1620.4)" textLength="36.7" lengthAdjust="spacingAndGlyphs" stroke="#222" stroke-width="0.3">2019</text>
<line x1="856.2" y1="1450.2" x2="856.2" y2="1511.7" stroke="#666" stroke-width="1.35" stroke-opacity="1" stroke-linecap="butt"/>
<line x1="856.2" y1="1560.5" x2="856.2" y2="1562.8" stroke="#666" stroke-width="1.35" stroke-opacity="1" stroke-linecap="butt"/>
<rect x="848.7" y="1511.7" width="15" height="48.8" fill="#EE3B2F" stroke="#555" stroke-width="1.1"/>
<line x1="848.7" y1="1539.8" x2="863.7" y2="1539.8" stroke="#333" stroke-width="2.2" stroke-opacity="1" stroke-linecap="butt"/>
<line x1="872.7" y1="1450.2" x2="872.7" y2="1505.3" stroke="#666" stroke-width="1.35" stroke-opacity="1" stroke-linecap="butt"/>
<line x1="872.7" y1="1558.5" x2="872.7" y2="1562.8" stroke="#666" stroke-width="1.35" stroke-opacity="1" stroke-linecap="butt"/>
<rect x="865.2" y="1505.3" width="15" height="53.2" fill="#E6372C" stroke="#555" stroke-width="1.1"/>
<line x1="865.2" y1="1533.4" x2="880.2" y2="1533.4" stroke="#333" stroke-width="2.2" stroke-opacity="1" stroke-linecap="butt"/>
<line x1="889.2" y1="1445.5" x2="889.2" y2="1503" stroke="#666" stroke-width="1.35" stroke-opacity="1" stroke-linecap="butt"/>
<line x1="889.2" y1="1557.2" x2="889.2" y2="1562.8" stroke="#666" stroke-width="1.35" stroke-opacity="1" stroke-linecap="butt"/>
<rect x="881.7" y="1503" width="15" height="54.2" fill="#DE3429" stroke="#555" stroke-width="1.1"/>
<line x1="881.7" y1="1531.8" x2="896.7" y2="1531.8" stroke="#333" stroke-width="2.2" stroke-opacity="1" stroke-linecap="butt"/>
<line x1="905.8" y1="1433.5" x2="905.8" y2="1494.3" stroke="#666" stroke-width="1.35" stroke-opacity="1" stroke-linecap="butt"/>
<line x1="905.8" y1="1556.8" x2="905.8" y2="1562.8" stroke="#666" stroke-width="1.35" stroke-opacity="1" stroke-linecap="butt"/>
<rect x="898.3" y="1494.3" width="15" height="62.5" fill="#D53026" stroke="#555" stroke-width="1.1"/>
<line x1="898.3" y1="1529.7" x2="913.3" y2="1529.7" stroke="#333" stroke-width="2.2" stroke-opacity="1" stroke-linecap="butt"/>
<line x1="922.3" y1="1420.1" x2="922.3" y2="1492" stroke="#666" stroke-width="1.35" stroke-opacity="1" stroke-linecap="butt"/>
<line x1="922.3" y1="1556.8" x2="922.3" y2="1562.8" stroke="#666" stroke-width="1.35" stroke-opacity="1" stroke-linecap="butt"/>
<rect x="914.8" y="1492" width="15" height="64.8" fill="#CD2C23" stroke="#555" stroke-width="1.1"/>
<line x1="914.8" y1="1529.7" x2="929.8" y2="1529.7" stroke="#333" stroke-width="2.2" stroke-opacity="1" stroke-linecap="butt"/>
<line x1="938.8" y1="1394.3" x2="938.8" y2="1483.6" stroke="#666" stroke-width="1.35" stroke-opacity="1" stroke-linecap="butt"/>
<line x1="938.8" y1="1555.8" x2="938.8" y2="1562.8" stroke="#666" stroke-width="1.35" stroke-opacity="1" stroke-linecap="butt"/>
<rect x="931.3" y="1483.6" width="15" height="72.2" fill="#C52920" stroke="#555" stroke-width="1.1"/>
<line x1="931.3" y1="1521.7" x2="946.3" y2="1521.7" stroke="#333" stroke-width="2.2" stroke-opacity="1" stroke-linecap="butt"/>
<line x1="955.3" y1="1382.3" x2="955.3" y2="1473.9" stroke="#666" stroke-width="1.35" stroke-opacity="1" stroke-linecap="butt"/>
<line x1="955.3" y1="1554.8" x2="955.3" y2="1562.8" stroke="#666" stroke-width="1.35" stroke-opacity="1" stroke-linecap="butt"/>
<rect x="947.8" y="1473.9" width="15" height="80.9" fill="#BC251E" stroke="#555" stroke-width="1.1"/>
<line x1="947.8" y1="1519.7" x2="962.8" y2="1519.7" stroke="#333" stroke-width="2.2" stroke-opacity="1" stroke-linecap="butt"/>
<line x1="971.8" y1="1364.2" x2="971.8" y2="1475.9" stroke="#666" stroke-width="1.35" stroke-opacity="1" stroke-linecap="butt"/>
<line x1="971.8" y1="1554.5" x2="971.8" y2="1562.8" stroke="#666" stroke-width="1.35" stroke-opacity="1" stroke-linecap="butt"/>
<rect x="964.3" y="1475.9" width="15" height="78.6" fill="#B4211B" stroke="#555" stroke-width="1.1"/>
<line x1="964.3" y1="1518" x2="979.3" y2="1518" stroke="#333" stroke-width="2.2" stroke-opacity="1" stroke-linecap="butt"/>
<line x1="988.4" y1="1371.3" x2="988.4" y2="1475.9" stroke="#666" stroke-width="1.35" stroke-opacity="1" stroke-linecap="butt"/>
<line x1="988.4" y1="1554.2" x2="988.4" y2="1562.8" stroke="#666" stroke-width="1.35" stroke-opacity="1" stroke-linecap="butt"/>
<rect x="980.9" y="1475.9" width="15" height="78.3" fill="#AC1E18" stroke="#555" stroke-width="1.1"/>
<line x1="980.9" y1="1517" x2="995.9" y2="1517" stroke="#333" stroke-width="2.2" stroke-opacity="1" stroke-linecap="butt"/>
<line x1="1004.9" y1="1353.9" x2="1004.9" y2="1471.6" stroke="#666" stroke-width="1.35" stroke-opacity="1" stroke-linecap="butt"/>
<line x1="1004.9" y1="1552.8" x2="1004.9" y2="1562.8" stroke="#666" stroke-width="1.35" stroke-opacity="1" stroke-linecap="butt"/>
<rect x="997.4" y="1471.6" width="15" height="81.2" fill="#A41A15" stroke="#555" stroke-width="1.1"/>
<line x1="997.4" y1="1516.4" x2="1012.4" y2="1516.4" stroke="#333" stroke-width="2.2" stroke-opacity="1" stroke-linecap="butt"/>
<line x1="1021.4" y1="1344.5" x2="1021.4" y2="1467.6" stroke="#666" stroke-width="1.35" stroke-opacity="1" stroke-linecap="butt"/>
<line x1="1021.4" y1="1551.5" x2="1021.4" y2="1562.8" stroke="#666" stroke-width="1.35" stroke-opacity="1" stroke-linecap="butt"/>
<rect x="1013.9" y="1467.6" width="15" height="83.9" fill="#9C1612" stroke="#555" stroke-width="1.1"/>
<line x1="1013.9" y1="1515.4" x2="1028.9" y2="1515.4" stroke="#333" stroke-width="2.2" stroke-opacity="1" stroke-linecap="butt"/>
<line x1="1037.9" y1="1347.5" x2="1037.9" y2="1467.6" stroke="#666" stroke-width="1.35" stroke-opacity="1" stroke-linecap="butt"/>
<line x1="1037.9" y1="1551.5" x2="1037.9" y2="1562.8" stroke="#666" stroke-width="1.35" stroke-opacity="1" stroke-linecap="butt"/>
<rect x="1030.4" y="1467.6" width="15" height="83.9" fill="#93130F" stroke="#555" stroke-width="1.1"/>
<line x1="1030.4" y1="1513.7" x2="1045.4" y2="1513.7" stroke="#333" stroke-width="2.2" stroke-opacity="1" stroke-linecap="butt"/>
<line x1="1054.4" y1="1347.5" x2="1054.4" y2="1467.6" stroke="#666" stroke-width="1.35" stroke-opacity="1" stroke-linecap="butt"/>
<line x1="1054.4" y1="1551.5" x2="1054.4" y2="1562.8" stroke="#666" stroke-width="1.35" stroke-opacity="1" stroke-linecap="butt"/>
<rect x="1046.9" y="1467.6" width="15" height="83.9" fill="#8B0F0C" stroke="#555" stroke-width="1.1"/>
<line x1="1046.9" y1="1513.7" x2="1061.9" y2="1513.7" stroke="#333" stroke-width="2.2" stroke-opacity="1" stroke-linecap="butt"/>
<g fill="#333">
<circle cx="856.2" cy="1235.5" r="4"/>
<circle cx="856.2" cy="1396.7" r="4"/>
<circle cx="872.7" cy="1275.3" r="4"/>
<circle cx="872.7" cy="1361.9" r="4"/>
<circle cx="889.2" cy="1305.1" r="4"/>
<circle cx="889.2" cy="1361.9" r="4"/>
<circle cx="905.8" cy="1322.5" r="4"/>
<circle cx="905.8" cy="1348.2" r="4"/>
<circle cx="922.3" cy="1326.8" r="4"/>
<circle cx="922.3" cy="1335.8" r="4"/>
<circle cx="938.8" cy="1297.4" r="4"/>
<circle cx="955.3" cy="1257.3" r="4"/>
<circle cx="971.8" cy="1245.9" r="4"/>
<circle cx="988.4" cy="1232.9" r="4"/>
<circle cx="988.4" cy="1359.6" r="4"/>
<circle cx="1004.9" cy="1203.4" r="4"/>
<circle cx="1021.4" cy="1204.4" r="4"/>
<circle cx="1037.9" cy="1197.7" r="4"/>
<circle cx="1054.4" cy="1197.7" r="4"/>
</g>
<text x="862" y="1620.4" font-size="18" fill="#FF2200" text-anchor="start" font-weight="normal" transform="rotate(-90 862 1620.4)" textLength="36.7" lengthAdjust="spacingAndGlyphs" stroke="#FF2200" stroke-width="0.1">1900</text>
<text x="878.5" y="1620.4" font-size="18" fill="#FF2200" text-anchor="start" font-weight="normal" transform="rotate(-90 878.5 1620.4)" textLength="36.7" lengthAdjust="spacingAndGlyphs" stroke="#FF2200" stroke-width="0.1">1910</text>
<text x="895" y="1620.4" font-size="18" fill="#FF2200" text-anchor="start" font-weight="normal" transform="rotate(-90 895 1620.4)" textLength="36.7" lengthAdjust="spacingAndGlyphs" stroke="#FF2200" stroke-width="0.1">1920</text>
<text x="911.6" y="1620.4" font-size="18" fill="#FF2200" text-anchor="start" font-weight="normal" transform="rotate(-90 911.6 1620.4)" textLength="36.7" lengthAdjust="spacingAndGlyphs" stroke="#FF2200" stroke-width="0.1">1930</text>
<text x="928.1" y="1620.4" font-size="18" fill="#FF2200" text-anchor="start" font-weight="normal" transform="rotate(-90 928.1 1620.4)" textLength="36.7" lengthAdjust="spacingAndGlyphs" stroke="#FF2200" stroke-width="0.1">1940</text>
<text x="944.6" y="1620.4" font-size="18" fill="#FF2200" text-anchor="start" font-weight="normal" transform="rotate(-90 944.6 1620.4)" textLength="36.7" lengthAdjust="spacingAndGlyphs" stroke="#FF2200" stroke-width="0.1">1950</text>
<text x="961.1" y="1620.4" font-size="18" fill="#FF2200" text-anchor="start" font-weight="normal" transform="rotate(-90 961.1 1620.4)" textLength="36.7" lengthAdjust="spacingAndGlyphs" stroke="#FF2200" stroke-width="0.1">1960</text>
<text x="977.6" y="1620.4" font-size="18" fill="#FF2200" text-anchor="start" font-weight="normal" transform="rotate(-90 977.6 1620.4)" textLength="36.7" lengthAdjust="spacingAndGlyphs" stroke="#FF2200" stroke-width="0.1">1970</text>
<text x="994.2" y="1620.4" font-size="18" fill="#FF2200" text-anchor="start" font-weight="normal" transform="rotate(-90 994.2 1620.4)" textLength="36.7" lengthAdjust="spacingAndGlyphs" stroke="#FF2200" stroke-width="0.1">1980</text>
<text x="1010.7" y="1620.4" font-size="18" fill="#FF2200" text-anchor="start" font-weight="normal" transform="rotate(-90 1010.7 1620.4)" textLength="36.7" lengthAdjust="spacingAndGlyphs" stroke="#FF2200" stroke-width="0.1">1990</text>
<text x="1027.2" y="1620.4" font-size="18" fill="#FF2200" text-anchor="start" font-weight="normal" transform="rotate(-90 1027.2 1620.4)" textLength="36.7" lengthAdjust="spacingAndGlyphs" stroke="#FF2200" stroke-width="0.1">2000</text>
<text x="1043.7" y="1620.4" font-size="18" fill="#FF2200" text-anchor="start" font-weight="normal" transform="rotate(-90 1043.7 1620.4)" textLength="36.7" lengthAdjust="spacingAndGlyphs" stroke="#FF2200" stroke-width="0.1">2010</text>
<text x="1060.2" y="1620.4" font-size="18" fill="#FF2200" text-anchor="start" font-weight="normal" transform="rotate(-90 1060.2 1620.4)" textLength="36.7" lengthAdjust="spacingAndGlyphs" stroke="#FF2200" stroke-width="0.1">2019</text>
<path d="M211.4,1176.7V1634.8H1127V1176.7" fill="none" stroke="#111" stroke-width="1.7"/>
<text x="203" y="1280.9" font-size="31.3" fill="#000" text-anchor="end" font-weight="normal">0.75</text>
<text x="203" y="1379" font-size="31.3" fill="#000" text-anchor="end" font-weight="normal">0.50</text>
<text x="203" y="1476.5" font-size="31.3" fill="#000" text-anchor="end" font-weight="normal">0.25</text>
<text x="203" y="1574.2" font-size="31.3" fill="#000" text-anchor="end" font-weight="normal">0.00</text>
<text x="1134.5" y="1280.8" font-size="31" fill="#FF2200" text-anchor="start" font-weight="normal">0.075</text>
<text x="1134.5" y="1379.5" font-size="31" fill="#FF2200" text-anchor="start" font-weight="normal">0.050</text>
<text x="1134.5" y="1477.4" font-size="31" fill="#FF2200" text-anchor="start" font-weight="normal">0.025</text>
<text x="1134.5" y="1575" font-size="31" fill="#FF2200" text-anchor="start" font-weight="normal">0.000</text>
<text x="383.4" y="1665.7" font-size="30.7" fill="#000" text-anchor="middle" font-weight="normal">Forest</text>
<text x="668.7" y="1665.4" font-size="31" fill="#000" text-anchor="middle" font-weight="normal">Grassland</text>
<text x="954.6" y="1665.4" font-size="31.1" fill="#FF2200" text-anchor="middle" font-weight="normal">Human settlements</text>
<text x="668.4" y="1701.8" font-size="34.3" fill="#000" text-anchor="middle" font-weight="normal">Habitat type</text>
<rect x="98.5" y="1169.4" width="1122" height="546.1" fill="none" stroke="#000" stroke-width="3.8"/>
</g>
</svg>
</body></html>
